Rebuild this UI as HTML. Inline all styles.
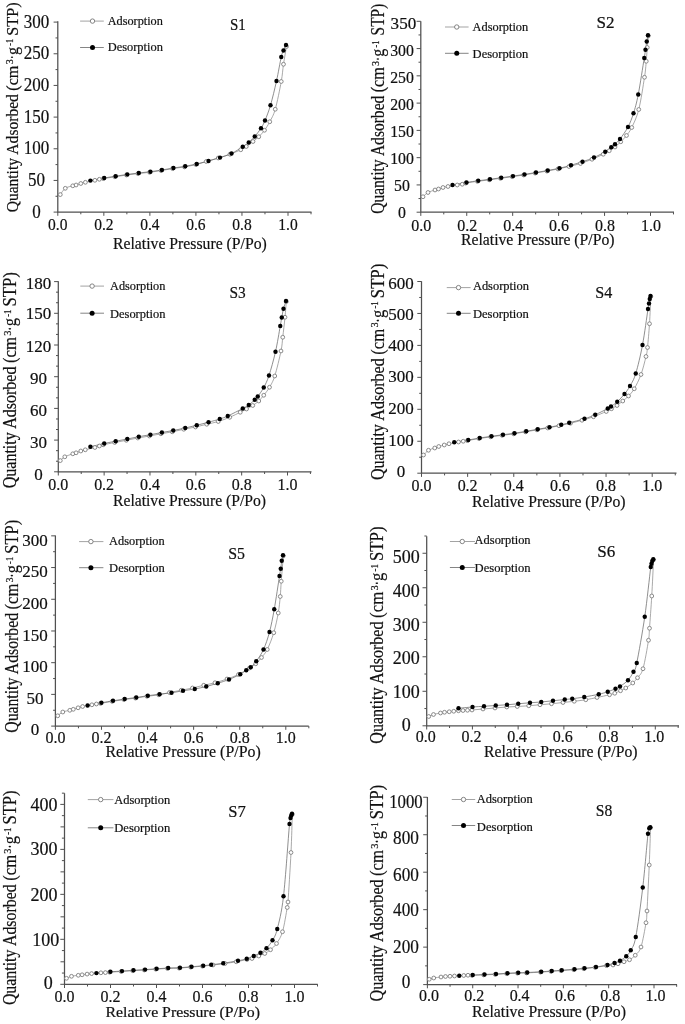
<!DOCTYPE html>
<html><head><meta charset="utf-8"><title>N2 adsorption-desorption isotherms</title>
<style>
html,body{margin:0;padding:0;background:#fff;}
body{width:685px;height:1024px;overflow:hidden;font-family:"Liberation Serif",serif;}
svg{display:block;will-change:transform;filter:blur(0.3px);}
svg text{font-family:"Liberation Serif",serif;fill:#111;stroke:#111;stroke-width:0.2px;}
</style></head><body>
<svg width="685" height="1024" viewBox="0 0 685 1024">
<rect width="685" height="1024" fill="#fff"/>
<g>
<path d="M57.8 21.3 V212.1 H311.5" fill="none" stroke="#505050" stroke-width="1.25"/>
<path d="M57.8 212.1h-4.2M57.8 180.43h-4.2M57.8 148.77h-4.2M57.8 117.1h-4.2M57.8 85.43h-4.2M57.8 53.77h-4.2M57.8 22.1h-4.2M57.8 196.27h-2.3M57.8 164.6h-2.3M57.8 132.93h-2.3M57.8 101.27h-2.3M57.8 69.6h-2.3M57.8 37.93h-2.3M57.8 212.1v3.7M80.82 212.1v2.2M103.84 212.1v3.7M126.86 212.1v2.2M149.88 212.1v3.7M172.9 212.1v2.2M195.92 212.1v3.7M218.94 212.1v2.2M241.96 212.1v3.7M264.98 212.1v2.2M288 212.1v3.7M311.02 212.1v2.2" fill="none" stroke="#505050" stroke-width="1"/>
<text x="36.5" y="217.5" font-size="18.5" text-anchor="middle" textLength="8.5" lengthAdjust="spacingAndGlyphs">0</text>
<text x="36.5" y="185.83" font-size="18.5" text-anchor="middle" textLength="17" lengthAdjust="spacingAndGlyphs">50</text>
<text x="36.5" y="154.17" font-size="18.5" text-anchor="middle" textLength="25.5" lengthAdjust="spacingAndGlyphs">100</text>
<text x="36.5" y="122.5" font-size="18.5" text-anchor="middle" textLength="25.5" lengthAdjust="spacingAndGlyphs">150</text>
<text x="36.5" y="90.83" font-size="18.5" text-anchor="middle" textLength="25.5" lengthAdjust="spacingAndGlyphs">200</text>
<text x="36.5" y="59.17" font-size="18.5" text-anchor="middle" textLength="25.5" lengthAdjust="spacingAndGlyphs">250</text>
<text x="36.5" y="27.5" font-size="18.5" text-anchor="middle" textLength="25.5" lengthAdjust="spacingAndGlyphs">300</text>
<text x="57.8" y="230.2" font-size="16.8" text-anchor="middle" textLength="19.4" lengthAdjust="spacingAndGlyphs">0.0</text>
<text x="103.84" y="230.2" font-size="16.8" text-anchor="middle" textLength="19.4" lengthAdjust="spacingAndGlyphs">0.2</text>
<text x="149.88" y="230.2" font-size="16.8" text-anchor="middle" textLength="19.4" lengthAdjust="spacingAndGlyphs">0.4</text>
<text x="195.92" y="230.2" font-size="16.8" text-anchor="middle" textLength="19.4" lengthAdjust="spacingAndGlyphs">0.6</text>
<text x="241.96" y="230.2" font-size="16.8" text-anchor="middle" textLength="19.4" lengthAdjust="spacingAndGlyphs">0.8</text>
<text x="288" y="230.2" font-size="16.8" text-anchor="middle" textLength="19.4" lengthAdjust="spacingAndGlyphs">1.0</text>
<text x="113" y="248.8" font-size="17" text-anchor="start" textLength="153.8" lengthAdjust="spacingAndGlyphs">Relative Pressure (P/Po)</text>
<g transform="translate(18.4 212.3) rotate(-90) scale(1.0014 1)">
<text x="0" y="0" font-size="17.6" text-anchor="start" textLength="54.2" lengthAdjust="spacingAndGlyphs">Quantity</text>
<text x="57.6" y="0" font-size="17.6" text-anchor="start" textLength="60.4" lengthAdjust="spacingAndGlyphs">Adsorbed</text>
<text x="121.4" y="0" font-size="17.6" text-anchor="start" textLength="25.2" lengthAdjust="spacingAndGlyphs">(cm</text>
<text x="147.8" y="-5.1" font-size="10.5" text-anchor="start" textLength="5" lengthAdjust="spacingAndGlyphs">3</text>
<text x="152.8" y="0" font-size="17.6" text-anchor="start" textLength="4" lengthAdjust="spacingAndGlyphs">·</text>
<text x="157" y="0" font-size="17.6" text-anchor="start" textLength="8" lengthAdjust="spacingAndGlyphs">g</text>
<text x="166.2" y="-5.1" font-size="10.5" text-anchor="start" textLength="7" lengthAdjust="spacingAndGlyphs">-1</text>
<text x="176.3" y="0" font-size="17.6" text-anchor="start" textLength="33.3" lengthAdjust="spacingAndGlyphs">STP)</text>
</g>
<path d="M80.1 21.1H103.8" stroke="#999" stroke-width="0.9" fill="none"/>
<circle cx="92.5" cy="21.1" r="2.2" fill="#fff" stroke="#777" stroke-width="0.9"/>
<text x="107.7" y="24.8" font-size="12.3" text-anchor="start" textLength="55.2" lengthAdjust="spacingAndGlyphs">Adsorption</text>
<path d="M80.1 47.5H103.8" stroke="#777" stroke-width="0.9" fill="none"/>
<circle cx="92.5" cy="47.5" r="2.5" fill="#000"/>
<text x="107.7" y="51.2" font-size="12.3" text-anchor="start" textLength="55.2" lengthAdjust="spacingAndGlyphs">Desorption</text>
<text x="230" y="30" font-size="16" text-anchor="start" textLength="15.75" lengthAdjust="spacingAndGlyphs">S1</text>
<path d="M60.3 194.6 C61.13 193.55 63.22 189.77 65.3 188.3 C67.38 186.83 71 186.35 72.8 185.8 C74.6 185.25 74.77 185.38 76.1 185 C77.43 184.62 79.25 183.95 80.8 183.5 C82.35 183.05 83.05 182.83 85.4 182.3 C87.75 181.77 92.57 180.8 94.9 180.3 C97.23 179.8 97.98 179.58 99.4 179.3 C100.82 179.02 100.82 179.02 103.4 178.6 C105.98 178.18 111.05 177.4 114.9 176.8 C118.75 176.2 122.65 175.53 126.5 175 C130.35 174.47 134.15 174.05 138 173.6 C141.85 173.15 145.75 172.8 149.6 172.3 C153.45 171.8 157.27 171.22 161.1 170.6 C164.93 169.98 168.71 169.22 172.6 168.6 C176.49 167.98 180.56 167.57 184.45 166.9 C188.34 166.23 192.32 165.5 195.95 164.6 C199.58 163.7 202.53 162.6 206.25 161.5 C209.97 160.4 214.29 159.21 218.25 158 C222.21 156.79 226.25 155.62 230 154.25 C233.75 152.88 238.04 151.04 240.75 149.75 C243.46 148.46 244.21 147.88 246.25 146.5 C248.29 145.12 250.92 143.12 253 141.5 C255.08 139.88 256.83 138.62 258.75 136.75 C260.67 134.88 262.67 132.75 264.5 130.25 C266.33 127.75 267.96 125.25 269.75 121.75 C271.54 118.25 273.33 115.96 275.25 109.25 C277.17 102.54 279.88 89 281.25 81.5 C282.62 74 282.62 70.08 283.5 64.25 C284.38 58.42 286 49.46 286.5 46.5" fill="none" stroke="#8c8c8c" stroke-width="0.75"/>
<path d="M90.4 180.6 C92.7 180.17 99.98 178.73 104.2 178 C108.42 177.27 111.85 176.8 115.7 176.2 C119.55 175.6 123.45 174.93 127.3 174.4 C131.15 173.87 134.95 173.45 138.8 173 C142.65 172.55 146.55 172.2 150.4 171.7 C154.25 171.2 158.07 170.62 161.9 170 C165.73 169.38 169.51 168.62 173.4 168 C177.29 167.38 181.36 166.97 185.25 166.3 C189.14 165.63 192.88 164.88 196.75 164 C200.62 163.12 204.62 162.07 208.5 161 C212.38 159.93 216.17 158.85 220 157.6 C223.83 156.35 227.71 155.31 231.5 153.5 C235.29 151.69 239.88 148.58 242.75 146.75 C245.62 144.92 246.75 144.21 248.75 142.5 C250.75 140.79 252.71 138.88 254.75 136.5 C256.79 134.12 259.29 130.92 261 128.25 C262.71 125.58 263.42 124.33 265 120.5 C266.58 116.67 268.58 111.83 270.5 105.25 C272.42 98.67 274.71 89.04 276.5 81 C278.29 72.96 280.08 62.08 281.25 57 C282.42 51.92 282.71 52.5 283.5 50.5 C284.29 48.5 285.58 45.92 286 45" fill="none" stroke="#6a6a6a" stroke-width="0.75"/>
<circle cx="60.3" cy="194.6" r="1.9" fill="#fff" stroke="#777" stroke-width="0.85"/>
<circle cx="65.3" cy="188.3" r="1.9" fill="#fff" stroke="#777" stroke-width="0.85"/>
<circle cx="72.8" cy="185.8" r="1.9" fill="#fff" stroke="#777" stroke-width="0.85"/>
<circle cx="76.1" cy="185" r="1.9" fill="#fff" stroke="#777" stroke-width="0.85"/>
<circle cx="80.8" cy="183.5" r="1.9" fill="#fff" stroke="#777" stroke-width="0.85"/>
<circle cx="85.4" cy="182.3" r="1.9" fill="#fff" stroke="#777" stroke-width="0.85"/>
<circle cx="94.9" cy="180.3" r="1.9" fill="#fff" stroke="#777" stroke-width="0.85"/>
<circle cx="99.4" cy="179.3" r="1.9" fill="#fff" stroke="#777" stroke-width="0.85"/>
<circle cx="103.4" cy="178.6" r="1.9" fill="#fff" stroke="#777" stroke-width="0.85"/>
<circle cx="114.9" cy="176.8" r="1.9" fill="#fff" stroke="#777" stroke-width="0.85"/>
<circle cx="126.5" cy="175" r="1.9" fill="#fff" stroke="#777" stroke-width="0.85"/>
<circle cx="138" cy="173.6" r="1.9" fill="#fff" stroke="#777" stroke-width="0.85"/>
<circle cx="149.6" cy="172.3" r="1.9" fill="#fff" stroke="#777" stroke-width="0.85"/>
<circle cx="161.1" cy="170.6" r="1.9" fill="#fff" stroke="#777" stroke-width="0.85"/>
<circle cx="172.6" cy="168.6" r="1.9" fill="#fff" stroke="#777" stroke-width="0.85"/>
<circle cx="184.45" cy="166.9" r="1.9" fill="#fff" stroke="#777" stroke-width="0.85"/>
<circle cx="195.95" cy="164.6" r="1.9" fill="#fff" stroke="#777" stroke-width="0.85"/>
<circle cx="206.25" cy="161.5" r="1.9" fill="#fff" stroke="#777" stroke-width="0.85"/>
<circle cx="218.25" cy="158" r="1.9" fill="#fff" stroke="#777" stroke-width="0.85"/>
<circle cx="230" cy="154.25" r="1.9" fill="#fff" stroke="#777" stroke-width="0.85"/>
<circle cx="240.75" cy="149.75" r="1.9" fill="#fff" stroke="#777" stroke-width="0.85"/>
<circle cx="246.25" cy="146.5" r="1.9" fill="#fff" stroke="#777" stroke-width="0.85"/>
<circle cx="253" cy="141.5" r="1.9" fill="#fff" stroke="#777" stroke-width="0.85"/>
<circle cx="258.75" cy="136.75" r="1.9" fill="#fff" stroke="#777" stroke-width="0.85"/>
<circle cx="264.5" cy="130.25" r="1.9" fill="#fff" stroke="#777" stroke-width="0.85"/>
<circle cx="269.75" cy="121.75" r="1.9" fill="#fff" stroke="#777" stroke-width="0.85"/>
<circle cx="275.25" cy="109.25" r="1.9" fill="#fff" stroke="#777" stroke-width="0.85"/>
<circle cx="281.25" cy="81.5" r="1.9" fill="#fff" stroke="#777" stroke-width="0.85"/>
<circle cx="283.5" cy="64.25" r="1.9" fill="#fff" stroke="#777" stroke-width="0.85"/>
<circle cx="286.5" cy="46.5" r="1.9" fill="#fff" stroke="#777" stroke-width="0.85"/>
<circle cx="90.4" cy="180.6" r="2.2" fill="#000"/>
<circle cx="104.2" cy="178" r="2.2" fill="#000"/>
<circle cx="115.7" cy="176.2" r="2.2" fill="#000"/>
<circle cx="127.3" cy="174.4" r="2.2" fill="#000"/>
<circle cx="138.8" cy="173" r="2.2" fill="#000"/>
<circle cx="150.4" cy="171.7" r="2.2" fill="#000"/>
<circle cx="161.9" cy="170" r="2.2" fill="#000"/>
<circle cx="173.4" cy="168" r="2.2" fill="#000"/>
<circle cx="185.25" cy="166.3" r="2.2" fill="#000"/>
<circle cx="196.75" cy="164" r="2.2" fill="#000"/>
<circle cx="208.5" cy="161" r="2.2" fill="#000"/>
<circle cx="220" cy="157.6" r="2.2" fill="#000"/>
<circle cx="231.5" cy="153.5" r="2.2" fill="#000"/>
<circle cx="242.75" cy="146.75" r="2.2" fill="#000"/>
<circle cx="248.75" cy="142.5" r="2.2" fill="#000"/>
<circle cx="254.75" cy="136.5" r="2.2" fill="#000"/>
<circle cx="261" cy="128.25" r="2.2" fill="#000"/>
<circle cx="265" cy="120.5" r="2.2" fill="#000"/>
<circle cx="270.5" cy="105.25" r="2.2" fill="#000"/>
<circle cx="276.5" cy="81" r="2.2" fill="#000"/>
<circle cx="281.25" cy="57" r="2.2" fill="#000"/>
<circle cx="283.5" cy="50.5" r="2.2" fill="#000"/>
<circle cx="286" cy="45" r="2.2" fill="#000"/>
</g>
<g>
<path d="M420.8 21.2 V212.2 H674" fill="none" stroke="#505050" stroke-width="1.25"/>
<path d="M420.8 212.2h-4.2M420.8 184.93h-4.2M420.8 157.66h-4.2M420.8 130.39h-4.2M420.8 103.11h-4.2M420.8 75.84h-4.2M420.8 48.57h-4.2M420.8 21.3h-4.2M420.8 198.56h-2.3M420.8 171.29h-2.3M420.8 144.02h-2.3M420.8 116.75h-2.3M420.8 89.48h-2.3M420.8 62.21h-2.3M420.8 34.94h-2.3M420.8 212.2v3.7M443.77 212.2v2.2M466.74 212.2v3.7M489.71 212.2v2.2M512.68 212.2v3.7M535.65 212.2v2.2M558.62 212.2v3.7M581.59 212.2v2.2M604.56 212.2v3.7M627.53 212.2v2.2M650.5 212.2v3.7M673.47 212.2v2.2" fill="none" stroke="#505050" stroke-width="1"/>
<text x="402" y="218.2" font-size="16.2" text-anchor="middle" textLength="7.9" lengthAdjust="spacingAndGlyphs">0</text>
<text x="402" y="191.21" font-size="16.2" text-anchor="middle" textLength="15.8" lengthAdjust="spacingAndGlyphs">50</text>
<text x="402" y="164.23" font-size="16.2" text-anchor="middle" textLength="23.7" lengthAdjust="spacingAndGlyphs">100</text>
<text x="402" y="137.24" font-size="16.2" text-anchor="middle" textLength="23.7" lengthAdjust="spacingAndGlyphs">150</text>
<text x="402" y="110.26" font-size="16.2" text-anchor="middle" textLength="23.7" lengthAdjust="spacingAndGlyphs">200</text>
<text x="402" y="83.27" font-size="16.2" text-anchor="middle" textLength="23.7" lengthAdjust="spacingAndGlyphs">250</text>
<text x="402" y="56.29" font-size="16.2" text-anchor="middle" textLength="23.7" lengthAdjust="spacingAndGlyphs">300</text>
<text x="403.4" y="29.3" font-size="16.2" text-anchor="middle" textLength="25.6" lengthAdjust="spacingAndGlyphs">350</text>
<text x="421.3" y="231" font-size="16.8" text-anchor="middle" textLength="20" lengthAdjust="spacingAndGlyphs">0.0</text>
<text x="467.24" y="231" font-size="16.8" text-anchor="middle" textLength="20" lengthAdjust="spacingAndGlyphs">0.2</text>
<text x="513.18" y="231" font-size="16.8" text-anchor="middle" textLength="20" lengthAdjust="spacingAndGlyphs">0.4</text>
<text x="559.12" y="231" font-size="16.8" text-anchor="middle" textLength="20" lengthAdjust="spacingAndGlyphs">0.6</text>
<text x="605.06" y="231" font-size="16.8" text-anchor="middle" textLength="20" lengthAdjust="spacingAndGlyphs">0.8</text>
<text x="651" y="231" font-size="16.8" text-anchor="middle" textLength="20" lengthAdjust="spacingAndGlyphs">1.0</text>
<text x="461" y="244.8" font-size="17" text-anchor="start" textLength="153.5" lengthAdjust="spacingAndGlyphs">Relative Pressure (P/Po)</text>
<g transform="translate(384.4 213.7) rotate(-90) scale(1.0000 1)">
<text x="0" y="0" font-size="18.1" text-anchor="start" textLength="54.2" lengthAdjust="spacingAndGlyphs">Quantity</text>
<text x="57.6" y="0" font-size="18.1" text-anchor="start" textLength="60.4" lengthAdjust="spacingAndGlyphs">Adsorbed</text>
<text x="121.4" y="0" font-size="18.1" text-anchor="start" textLength="25.2" lengthAdjust="spacingAndGlyphs">(cm</text>
<text x="147.8" y="-5.1" font-size="10.5" text-anchor="start" textLength="5" lengthAdjust="spacingAndGlyphs">3</text>
<text x="152.8" y="0" font-size="18.1" text-anchor="start" textLength="4" lengthAdjust="spacingAndGlyphs">·</text>
<text x="157" y="0" font-size="18.1" text-anchor="start" textLength="8" lengthAdjust="spacingAndGlyphs">g</text>
<text x="166.2" y="-5.1" font-size="10.5" text-anchor="start" textLength="7" lengthAdjust="spacingAndGlyphs">-1</text>
<text x="178.3" y="0" font-size="18.1" text-anchor="start" textLength="31.6" lengthAdjust="spacingAndGlyphs">STP)</text>
</g>
<path d="M445 27H468.6" stroke="#999" stroke-width="0.9" fill="none"/>
<circle cx="456.75" cy="27" r="2.2" fill="#fff" stroke="#777" stroke-width="0.9"/>
<text x="472.6" y="30.7" font-size="12.3" text-anchor="start" textLength="55.6" lengthAdjust="spacingAndGlyphs">Adsorption</text>
<path d="M445 53.3H468.6" stroke="#777" stroke-width="0.9" fill="none"/>
<circle cx="456.75" cy="53.3" r="2.5" fill="#000"/>
<text x="472.6" y="57.9" font-size="12.3" text-anchor="start" textLength="55.6" lengthAdjust="spacingAndGlyphs">Desorption</text>
<text x="596.5" y="27.5" font-size="16" text-anchor="start" textLength="18" lengthAdjust="spacingAndGlyphs">S2</text>
<path d="M423 196.75 C423.83 196.04 426 193.62 428 192.5 C430 191.38 433.25 190.58 435 190 C436.75 189.42 437.17 189.42 438.5 189 C439.83 188.58 441.42 187.92 443 187.5 C444.58 187.08 445.62 186.92 448 186.5 C450.38 186.08 454.88 185.38 457.25 185 C459.62 184.62 460.84 184.57 462.25 184.25 C463.66 183.93 463.17 183.58 465.7 183.1 C468.23 182.62 473.53 181.89 477.45 181.35 C481.37 180.81 485.37 180.35 489.2 179.85 C493.03 179.35 496.62 178.88 500.45 178.35 C504.28 177.82 508.33 177.26 512.2 176.7 C516.08 176.14 519.87 175.6 523.7 175 C527.53 174.4 531.33 173.75 535.2 173.1 C539.08 172.45 543.15 171.78 546.95 171.1 C550.75 170.42 554.33 169.77 558 169 C561.67 168.23 565.25 167.42 569 166.5 C572.75 165.58 576.67 164.71 580.5 163.5 C584.33 162.29 588.21 160.79 592 159.25 C595.79 157.71 600.38 155.67 603.25 154.25 C606.12 152.83 607.29 151.96 609.25 150.75 C611.21 149.54 613.08 148.5 615 147 C616.92 145.5 618.83 143.67 620.75 141.75 C622.67 139.83 624.67 137.88 626.5 135.5 C628.33 133.12 629.71 131.83 631.75 127.5 C633.79 123.17 636.62 117.88 638.75 109.5 C640.88 101.12 643.25 85.29 644.5 77.25 C645.75 69.21 645.79 66.21 646.25 61.25 C646.71 56.29 646.91 51.73 647.25 47.5 C647.59 43.27 648.12 37.79 648.3 35.85" fill="none" stroke="#8c8c8c" stroke-width="0.75"/>
<path d="M452.5 185 C454.83 184.58 462.21 183.21 466.5 182.5 C470.79 181.79 474.33 181.29 478.25 180.75 C482.17 180.21 486.17 179.75 490 179.25 C493.83 178.75 497.42 178.28 501.25 177.75 C505.08 177.22 509.12 176.66 513 176.1 C516.88 175.54 520.67 175 524.5 174.4 C528.33 173.8 532.12 173.15 536 172.5 C539.88 171.85 543.83 171.21 547.75 170.5 C551.67 169.79 555.62 169.12 559.5 168.25 C563.38 167.38 567.17 166.33 571 165.25 C574.83 164.17 578.67 163.04 582.5 161.75 C586.33 160.46 590.21 159.17 594 157.5 C597.79 155.83 602.38 153.46 605.25 151.75 C608.12 150.04 609.62 148.5 611.25 147.25 C612.88 146 613.54 145.62 615 144.25 C616.46 142.88 617.83 141.88 620 139 C622.17 136.12 625.75 131.29 628 127 C630.25 122.71 631.79 118.67 633.5 113.25 C635.21 107.83 636.46 103.71 638.25 94.5 C640.04 85.29 643.04 65.46 644.25 58 C645.46 50.54 645.08 52.5 645.5 49.75 C645.92 47 646.33 43.92 646.75 41.5 C647.17 39.08 647.79 36.29 648 35.25" fill="none" stroke="#6a6a6a" stroke-width="0.75"/>
<circle cx="423" cy="196.75" r="1.9" fill="#fff" stroke="#777" stroke-width="0.85"/>
<circle cx="428" cy="192.5" r="1.9" fill="#fff" stroke="#777" stroke-width="0.85"/>
<circle cx="435" cy="190" r="1.9" fill="#fff" stroke="#777" stroke-width="0.85"/>
<circle cx="438.5" cy="189" r="1.9" fill="#fff" stroke="#777" stroke-width="0.85"/>
<circle cx="443" cy="187.5" r="1.9" fill="#fff" stroke="#777" stroke-width="0.85"/>
<circle cx="448" cy="186.5" r="1.9" fill="#fff" stroke="#777" stroke-width="0.85"/>
<circle cx="457.25" cy="185" r="1.9" fill="#fff" stroke="#777" stroke-width="0.85"/>
<circle cx="462.25" cy="184.25" r="1.9" fill="#fff" stroke="#777" stroke-width="0.85"/>
<circle cx="465.7" cy="183.1" r="1.9" fill="#fff" stroke="#777" stroke-width="0.85"/>
<circle cx="477.45" cy="181.35" r="1.9" fill="#fff" stroke="#777" stroke-width="0.85"/>
<circle cx="489.2" cy="179.85" r="1.9" fill="#fff" stroke="#777" stroke-width="0.85"/>
<circle cx="500.45" cy="178.35" r="1.9" fill="#fff" stroke="#777" stroke-width="0.85"/>
<circle cx="512.2" cy="176.7" r="1.9" fill="#fff" stroke="#777" stroke-width="0.85"/>
<circle cx="523.7" cy="175" r="1.9" fill="#fff" stroke="#777" stroke-width="0.85"/>
<circle cx="535.2" cy="173.1" r="1.9" fill="#fff" stroke="#777" stroke-width="0.85"/>
<circle cx="546.95" cy="171.1" r="1.9" fill="#fff" stroke="#777" stroke-width="0.85"/>
<circle cx="558" cy="169" r="1.9" fill="#fff" stroke="#777" stroke-width="0.85"/>
<circle cx="569" cy="166.5" r="1.9" fill="#fff" stroke="#777" stroke-width="0.85"/>
<circle cx="580.5" cy="163.5" r="1.9" fill="#fff" stroke="#777" stroke-width="0.85"/>
<circle cx="592" cy="159.25" r="1.9" fill="#fff" stroke="#777" stroke-width="0.85"/>
<circle cx="603.25" cy="154.25" r="1.9" fill="#fff" stroke="#777" stroke-width="0.85"/>
<circle cx="609.25" cy="150.75" r="1.9" fill="#fff" stroke="#777" stroke-width="0.85"/>
<circle cx="615" cy="147" r="1.9" fill="#fff" stroke="#777" stroke-width="0.85"/>
<circle cx="620.75" cy="141.75" r="1.9" fill="#fff" stroke="#777" stroke-width="0.85"/>
<circle cx="626.5" cy="135.5" r="1.9" fill="#fff" stroke="#777" stroke-width="0.85"/>
<circle cx="631.75" cy="127.5" r="1.9" fill="#fff" stroke="#777" stroke-width="0.85"/>
<circle cx="638.75" cy="109.5" r="1.9" fill="#fff" stroke="#777" stroke-width="0.85"/>
<circle cx="644.5" cy="77.25" r="1.9" fill="#fff" stroke="#777" stroke-width="0.85"/>
<circle cx="646.25" cy="61.25" r="1.9" fill="#fff" stroke="#777" stroke-width="0.85"/>
<circle cx="647.25" cy="47.5" r="1.9" fill="#fff" stroke="#777" stroke-width="0.85"/>
<circle cx="648.3" cy="35.85" r="1.9" fill="#fff" stroke="#777" stroke-width="0.85"/>
<circle cx="452.5" cy="185" r="2.2" fill="#000"/>
<circle cx="466.5" cy="182.5" r="2.2" fill="#000"/>
<circle cx="478.25" cy="180.75" r="2.2" fill="#000"/>
<circle cx="490" cy="179.25" r="2.2" fill="#000"/>
<circle cx="501.25" cy="177.75" r="2.2" fill="#000"/>
<circle cx="513" cy="176.1" r="2.2" fill="#000"/>
<circle cx="524.5" cy="174.4" r="2.2" fill="#000"/>
<circle cx="536" cy="172.5" r="2.2" fill="#000"/>
<circle cx="547.75" cy="170.5" r="2.2" fill="#000"/>
<circle cx="559.5" cy="168.25" r="2.2" fill="#000"/>
<circle cx="571" cy="165.25" r="2.2" fill="#000"/>
<circle cx="582.5" cy="161.75" r="2.2" fill="#000"/>
<circle cx="594" cy="157.5" r="2.2" fill="#000"/>
<circle cx="605.25" cy="151.75" r="2.2" fill="#000"/>
<circle cx="611.25" cy="147.25" r="2.2" fill="#000"/>
<circle cx="615" cy="144.25" r="2.2" fill="#000"/>
<circle cx="620" cy="139" r="2.2" fill="#000"/>
<circle cx="628" cy="127" r="2.2" fill="#000"/>
<circle cx="633.5" cy="113.25" r="2.2" fill="#000"/>
<circle cx="638.25" cy="94.5" r="2.2" fill="#000"/>
<circle cx="644.25" cy="58" r="2.2" fill="#000"/>
<circle cx="645.5" cy="49.75" r="2.2" fill="#000"/>
<circle cx="646.75" cy="41.5" r="2.2" fill="#000"/>
<circle cx="648" cy="35.25" r="2.2" fill="#000"/>
</g>
<g>
<path d="M58.3 281.3 V471.8 H311.5" fill="none" stroke="#505050" stroke-width="1.25"/>
<path d="M58.3 471.8h-4.2M58.3 440.1h-4.2M58.3 408.4h-4.2M58.3 376.7h-4.2M58.3 345h-4.2M58.3 313.3h-4.2M58.3 281.6h-4.2M58.3 461.23h-2.3M58.3 450.67h-2.3M58.3 429.53h-2.3M58.3 418.97h-2.3M58.3 397.83h-2.3M58.3 387.27h-2.3M58.3 366.13h-2.3M58.3 355.57h-2.3M58.3 334.43h-2.3M58.3 323.87h-2.3M58.3 302.73h-2.3M58.3 292.17h-2.3M58.3 471.8v3.7M81.22 471.8v2.2M104.14 471.8v3.7M127.06 471.8v2.2M149.98 471.8v3.7M172.9 471.8v2.2M195.82 471.8v3.7M218.74 471.8v2.2M241.66 471.8v3.7M264.58 471.8v2.2M287.5 471.8v3.7M310.42 471.8v2.2" fill="none" stroke="#505050" stroke-width="1"/>
<text x="38.4" y="479.55" font-size="16.8" text-anchor="middle" textLength="8.5" lengthAdjust="spacingAndGlyphs">0</text>
<text x="38.4" y="448.45" font-size="16.8" text-anchor="middle" textLength="17" lengthAdjust="spacingAndGlyphs">30</text>
<text x="38.4" y="415.95" font-size="16.8" text-anchor="middle" textLength="17" lengthAdjust="spacingAndGlyphs">60</text>
<text x="38.4" y="383.55" font-size="16.8" text-anchor="middle" textLength="17" lengthAdjust="spacingAndGlyphs">90</text>
<text x="38.4" y="351.85" font-size="16.8" text-anchor="middle" textLength="25.5" lengthAdjust="spacingAndGlyphs">120</text>
<text x="38.4" y="318.75" font-size="16.8" text-anchor="middle" textLength="25.5" lengthAdjust="spacingAndGlyphs">150</text>
<text x="38.4" y="289.05" font-size="16.8" text-anchor="middle" textLength="25.5" lengthAdjust="spacingAndGlyphs">180</text>
<text x="58.3" y="489.5" font-size="16.8" text-anchor="middle" textLength="20" lengthAdjust="spacingAndGlyphs">0.0</text>
<text x="104.14" y="489.5" font-size="16.8" text-anchor="middle" textLength="20" lengthAdjust="spacingAndGlyphs">0.2</text>
<text x="149.98" y="489.5" font-size="16.8" text-anchor="middle" textLength="20" lengthAdjust="spacingAndGlyphs">0.4</text>
<text x="195.82" y="489.5" font-size="16.8" text-anchor="middle" textLength="20" lengthAdjust="spacingAndGlyphs">0.6</text>
<text x="241.66" y="489.5" font-size="16.8" text-anchor="middle" textLength="20" lengthAdjust="spacingAndGlyphs">0.8</text>
<text x="287.5" y="489.5" font-size="16.8" text-anchor="middle" textLength="20" lengthAdjust="spacingAndGlyphs">1.0</text>
<text x="113" y="506" font-size="17" text-anchor="start" textLength="153" lengthAdjust="spacingAndGlyphs">Relative Pressure (P/Po)</text>
<g transform="translate(16 488.2) rotate(-90) scale(1.0310 1)">
<text x="0" y="0" font-size="18.6" text-anchor="start" textLength="54.2" lengthAdjust="spacingAndGlyphs">Quantity</text>
<text x="57.6" y="0" font-size="18.6" text-anchor="start" textLength="60.4" lengthAdjust="spacingAndGlyphs">Adsorbed</text>
<text x="121.4" y="0" font-size="18.6" text-anchor="start" textLength="25.2" lengthAdjust="spacingAndGlyphs">(cm</text>
<text x="147.8" y="-5.1" font-size="10.5" text-anchor="start" textLength="5" lengthAdjust="spacingAndGlyphs">3</text>
<text x="152.8" y="0" font-size="18.6" text-anchor="start" textLength="4" lengthAdjust="spacingAndGlyphs">·</text>
<text x="157" y="0" font-size="18.6" text-anchor="start" textLength="8" lengthAdjust="spacingAndGlyphs">g</text>
<text x="166.2" y="-5.1" font-size="10.5" text-anchor="start" textLength="7" lengthAdjust="spacingAndGlyphs">-1</text>
<text x="176.3" y="0" font-size="18.6" text-anchor="start" textLength="33.3" lengthAdjust="spacingAndGlyphs">STP)</text>
</g>
<path d="M80.3 286.1H104" stroke="#999" stroke-width="0.9" fill="none"/>
<circle cx="92.1" cy="286.1" r="2.2" fill="#fff" stroke="#777" stroke-width="0.9"/>
<text x="110" y="290.2" font-size="12.3" text-anchor="start" textLength="55.4" lengthAdjust="spacingAndGlyphs">Adsorption</text>
<path d="M80.3 313.2H104" stroke="#777" stroke-width="0.9" fill="none"/>
<circle cx="92.1" cy="313.2" r="2.5" fill="#000"/>
<text x="110" y="317.5" font-size="12.3" text-anchor="start" textLength="55.4" lengthAdjust="spacingAndGlyphs">Desorption</text>
<text x="229.5" y="298" font-size="16" text-anchor="start" textLength="16.25" lengthAdjust="spacingAndGlyphs">S3</text>
<path d="M60.3 460.6 C61.05 459.97 62.72 457.93 64.8 456.8 C66.88 455.67 70.92 454.47 72.8 453.8 C74.68 453.13 74.77 453.27 76.1 452.8 C77.43 452.33 79.27 451.5 80.8 451 C82.33 450.5 82.95 450.38 85.3 449.8 C87.65 449.22 92.55 448.13 94.9 447.5 C97.25 446.87 98.02 446.45 99.4 446 C100.78 445.55 100.65 445.38 103.2 444.8 C105.75 444.22 110.85 443.25 114.7 442.5 C118.55 441.75 122.45 441.05 126.3 440.3 C130.15 439.55 133.95 438.72 137.8 438 C141.65 437.28 145.55 436.7 149.4 436 C153.25 435.3 157.09 434.5 160.9 433.8 C164.71 433.1 168.44 432.56 172.25 431.8 C176.06 431.04 179.88 430.05 183.75 429.25 C187.62 428.45 191.67 427.83 195.5 427 C199.33 426.17 202.96 425.17 206.75 424.25 C210.54 423.33 214.42 422.67 218.25 421.5 C222.08 420.33 226.08 418.79 229.75 417.25 C233.42 415.71 237.46 413.62 240.25 412.25 C243.04 410.88 244.42 410.12 246.5 409 C248.58 407.88 250.71 406.83 252.75 405.5 C254.79 404.17 256.92 402.71 258.75 401 C260.58 399.29 261.96 397.54 263.75 395.25 C265.54 392.96 267.67 390.46 269.5 387.25 C271.33 384.04 272.83 382.04 274.75 376 C276.67 369.96 279.67 357.46 281 351 C282.33 344.54 282.08 342.88 282.75 337.25 C283.42 331.62 284.41 323.19 285 317.25 C285.59 311.31 286.08 304.21 286.3 301.6" fill="none" stroke="#8c8c8c" stroke-width="0.75"/>
<path d="M90.4 446.8 C92.7 446.25 99.98 444.43 104.2 443.5 C108.42 442.57 111.85 441.95 115.7 441.2 C119.55 440.45 123.45 439.75 127.3 439 C131.15 438.25 134.95 437.42 138.8 436.7 C142.65 435.98 146.55 435.4 150.4 434.7 C154.25 434 158.09 433.2 161.9 432.5 C165.71 431.8 169.36 431.25 173.25 430.5 C177.14 429.75 181.33 428.88 185.25 428 C189.17 427.12 192.88 426.21 196.75 425.25 C200.62 424.29 204.67 423.29 208.5 422.25 C212.33 421.21 216.54 420.04 219.75 419 C222.96 417.96 223.92 417.75 227.75 416 C231.58 414.25 239.25 410.33 242.75 408.5 C246.25 406.67 246.75 406.46 248.75 405 C250.75 403.54 253.25 401.17 254.75 399.75 C256.25 398.33 256.25 398.54 257.75 396.5 C259.25 394.46 261.88 391 263.75 387.5 C265.62 384 267.04 381.46 269 375.5 C270.96 369.54 273.62 360 275.5 351.75 C277.38 343.5 279.21 331.71 280.25 326 C281.29 320.29 281.21 320.38 281.75 317.5 C282.29 314.62 282.79 311.5 283.5 308.75 C284.21 306 285.58 302.29 286 301" fill="none" stroke="#6a6a6a" stroke-width="0.75"/>
<circle cx="60.3" cy="460.6" r="1.9" fill="#fff" stroke="#777" stroke-width="0.85"/>
<circle cx="64.8" cy="456.8" r="1.9" fill="#fff" stroke="#777" stroke-width="0.85"/>
<circle cx="72.8" cy="453.8" r="1.9" fill="#fff" stroke="#777" stroke-width="0.85"/>
<circle cx="76.1" cy="452.8" r="1.9" fill="#fff" stroke="#777" stroke-width="0.85"/>
<circle cx="80.8" cy="451" r="1.9" fill="#fff" stroke="#777" stroke-width="0.85"/>
<circle cx="85.3" cy="449.8" r="1.9" fill="#fff" stroke="#777" stroke-width="0.85"/>
<circle cx="94.9" cy="447.5" r="1.9" fill="#fff" stroke="#777" stroke-width="0.85"/>
<circle cx="99.4" cy="446" r="1.9" fill="#fff" stroke="#777" stroke-width="0.85"/>
<circle cx="103.2" cy="444.8" r="1.9" fill="#fff" stroke="#777" stroke-width="0.85"/>
<circle cx="114.7" cy="442.5" r="1.9" fill="#fff" stroke="#777" stroke-width="0.85"/>
<circle cx="126.3" cy="440.3" r="1.9" fill="#fff" stroke="#777" stroke-width="0.85"/>
<circle cx="137.8" cy="438" r="1.9" fill="#fff" stroke="#777" stroke-width="0.85"/>
<circle cx="149.4" cy="436" r="1.9" fill="#fff" stroke="#777" stroke-width="0.85"/>
<circle cx="160.9" cy="433.8" r="1.9" fill="#fff" stroke="#777" stroke-width="0.85"/>
<circle cx="172.25" cy="431.8" r="1.9" fill="#fff" stroke="#777" stroke-width="0.85"/>
<circle cx="183.75" cy="429.25" r="1.9" fill="#fff" stroke="#777" stroke-width="0.85"/>
<circle cx="195.5" cy="427" r="1.9" fill="#fff" stroke="#777" stroke-width="0.85"/>
<circle cx="206.75" cy="424.25" r="1.9" fill="#fff" stroke="#777" stroke-width="0.85"/>
<circle cx="218.25" cy="421.5" r="1.9" fill="#fff" stroke="#777" stroke-width="0.85"/>
<circle cx="229.75" cy="417.25" r="1.9" fill="#fff" stroke="#777" stroke-width="0.85"/>
<circle cx="240.25" cy="412.25" r="1.9" fill="#fff" stroke="#777" stroke-width="0.85"/>
<circle cx="246.5" cy="409" r="1.9" fill="#fff" stroke="#777" stroke-width="0.85"/>
<circle cx="252.75" cy="405.5" r="1.9" fill="#fff" stroke="#777" stroke-width="0.85"/>
<circle cx="258.75" cy="401" r="1.9" fill="#fff" stroke="#777" stroke-width="0.85"/>
<circle cx="263.75" cy="395.25" r="1.9" fill="#fff" stroke="#777" stroke-width="0.85"/>
<circle cx="269.5" cy="387.25" r="1.9" fill="#fff" stroke="#777" stroke-width="0.85"/>
<circle cx="274.75" cy="376" r="1.9" fill="#fff" stroke="#777" stroke-width="0.85"/>
<circle cx="281" cy="351" r="1.9" fill="#fff" stroke="#777" stroke-width="0.85"/>
<circle cx="282.75" cy="337.25" r="1.9" fill="#fff" stroke="#777" stroke-width="0.85"/>
<circle cx="285" cy="317.25" r="1.9" fill="#fff" stroke="#777" stroke-width="0.85"/>
<circle cx="286.3" cy="301.6" r="1.9" fill="#fff" stroke="#777" stroke-width="0.85"/>
<circle cx="90.4" cy="446.8" r="2.2" fill="#000"/>
<circle cx="104.2" cy="443.5" r="2.2" fill="#000"/>
<circle cx="115.7" cy="441.2" r="2.2" fill="#000"/>
<circle cx="127.3" cy="439" r="2.2" fill="#000"/>
<circle cx="138.8" cy="436.7" r="2.2" fill="#000"/>
<circle cx="150.4" cy="434.7" r="2.2" fill="#000"/>
<circle cx="161.9" cy="432.5" r="2.2" fill="#000"/>
<circle cx="173.25" cy="430.5" r="2.2" fill="#000"/>
<circle cx="185.25" cy="428" r="2.2" fill="#000"/>
<circle cx="196.75" cy="425.25" r="2.2" fill="#000"/>
<circle cx="208.5" cy="422.25" r="2.2" fill="#000"/>
<circle cx="219.75" cy="419" r="2.2" fill="#000"/>
<circle cx="227.75" cy="416" r="2.2" fill="#000"/>
<circle cx="242.75" cy="408.5" r="2.2" fill="#000"/>
<circle cx="248.75" cy="405" r="2.2" fill="#000"/>
<circle cx="254.75" cy="399.75" r="2.2" fill="#000"/>
<circle cx="257.75" cy="396.5" r="2.2" fill="#000"/>
<circle cx="263.75" cy="387.5" r="2.2" fill="#000"/>
<circle cx="269" cy="375.5" r="2.2" fill="#000"/>
<circle cx="275.5" cy="351.75" r="2.2" fill="#000"/>
<circle cx="280.25" cy="326" r="2.2" fill="#000"/>
<circle cx="281.75" cy="317.5" r="2.2" fill="#000"/>
<circle cx="283.5" cy="308.75" r="2.2" fill="#000"/>
<circle cx="286" cy="301" r="2.2" fill="#000"/>
</g>
<g>
<path d="M421.5 281.3 V473.2 H676.5" fill="none" stroke="#505050" stroke-width="1.25"/>
<path d="M421.5 473.2h-4.2M421.5 441.25h-4.2M421.5 409.3h-4.2M421.5 377.35h-4.2M421.5 345.4h-4.2M421.5 313.45h-4.2M421.5 281.5h-4.2M421.5 457.22h-2.3M421.5 425.27h-2.3M421.5 393.32h-2.3M421.5 361.38h-2.3M421.5 329.42h-2.3M421.5 297.48h-2.3M421.5 473.2v3.7M444.57 473.2v2.2M467.64 473.2v3.7M490.71 473.2v2.2M513.78 473.2v3.7M536.85 473.2v2.2M559.92 473.2v3.7M582.99 473.2v2.2M606.06 473.2v3.7M629.13 473.2v2.2M652.2 473.2v3.7M675.27 473.2v2.2" fill="none" stroke="#505050" stroke-width="1"/>
<text x="401" y="476.5" font-size="17.4" text-anchor="middle" textLength="8.5" lengthAdjust="spacingAndGlyphs">0</text>
<text x="401" y="445.65" font-size="17.4" text-anchor="middle" textLength="25.5" lengthAdjust="spacingAndGlyphs">100</text>
<text x="401" y="413.7" font-size="17.4" text-anchor="middle" textLength="25.5" lengthAdjust="spacingAndGlyphs">200</text>
<text x="401" y="382.35" font-size="17.4" text-anchor="middle" textLength="25.5" lengthAdjust="spacingAndGlyphs">300</text>
<text x="401" y="351.3" font-size="17.4" text-anchor="middle" textLength="25.5" lengthAdjust="spacingAndGlyphs">400</text>
<text x="401" y="319.95" font-size="17.4" text-anchor="middle" textLength="25.5" lengthAdjust="spacingAndGlyphs">500</text>
<text x="401" y="288.5" font-size="17.4" text-anchor="middle" textLength="25.5" lengthAdjust="spacingAndGlyphs">600</text>
<text x="421.5" y="490.5" font-size="16.8" text-anchor="middle" textLength="20" lengthAdjust="spacingAndGlyphs">0.0</text>
<text x="467.64" y="490.5" font-size="16.8" text-anchor="middle" textLength="20" lengthAdjust="spacingAndGlyphs">0.2</text>
<text x="513.78" y="490.5" font-size="16.8" text-anchor="middle" textLength="20" lengthAdjust="spacingAndGlyphs">0.4</text>
<text x="559.92" y="490.5" font-size="16.8" text-anchor="middle" textLength="20" lengthAdjust="spacingAndGlyphs">0.6</text>
<text x="606.06" y="490.5" font-size="16.8" text-anchor="middle" textLength="20" lengthAdjust="spacingAndGlyphs">0.8</text>
<text x="652.2" y="490.5" font-size="16.8" text-anchor="middle" textLength="20" lengthAdjust="spacingAndGlyphs">1.0</text>
<text x="472" y="506.5" font-size="17" text-anchor="start" textLength="153.5" lengthAdjust="spacingAndGlyphs">Relative Pressure (P/Po)</text>
<g transform="translate(383.5 480.1) rotate(-90) scale(1.0320 1)">
<text x="0" y="0" font-size="18.1" text-anchor="start" textLength="54.2" lengthAdjust="spacingAndGlyphs">Quantity</text>
<text x="57.6" y="0" font-size="18.1" text-anchor="start" textLength="60.4" lengthAdjust="spacingAndGlyphs">Adsorbed</text>
<text x="121.4" y="0" font-size="18.1" text-anchor="start" textLength="25.2" lengthAdjust="spacingAndGlyphs">(cm</text>
<text x="147.8" y="-5.1" font-size="10.5" text-anchor="start" textLength="5" lengthAdjust="spacingAndGlyphs">3</text>
<text x="152.8" y="0" font-size="18.1" text-anchor="start" textLength="4" lengthAdjust="spacingAndGlyphs">·</text>
<text x="157" y="0" font-size="18.1" text-anchor="start" textLength="8" lengthAdjust="spacingAndGlyphs">g</text>
<text x="166.2" y="-5.1" font-size="10.5" text-anchor="start" textLength="7" lengthAdjust="spacingAndGlyphs">-1</text>
<text x="176.3" y="0" font-size="18.1" text-anchor="start" textLength="33.3" lengthAdjust="spacingAndGlyphs">STP)</text>
</g>
<path d="M446.75 287.6H470.6" stroke="#999" stroke-width="0.9" fill="none"/>
<circle cx="458.5" cy="287.6" r="2.2" fill="#fff" stroke="#777" stroke-width="0.9"/>
<text x="472.9" y="290.4" font-size="12.3" text-anchor="start" textLength="56" lengthAdjust="spacingAndGlyphs">Adsorption</text>
<path d="M446.75 313.3H470.6" stroke="#777" stroke-width="0.9" fill="none"/>
<circle cx="458.5" cy="313.3" r="2.5" fill="#000"/>
<text x="472.9" y="318.3" font-size="12.3" text-anchor="start" textLength="56" lengthAdjust="spacingAndGlyphs">Desorption</text>
<text x="595.25" y="297.75" font-size="16" text-anchor="start" textLength="17" lengthAdjust="spacingAndGlyphs">S4</text>
<path d="M423.5 455 C424.33 454.21 426.62 451.42 428.5 450.25 C430.38 449.08 433.04 448.62 434.75 448 C436.46 447.38 437.17 447 438.75 446.5 C440.33 446 442.54 445.46 444.25 445 C445.96 444.54 446.62 444.25 449 443.75 C451.38 443.25 456.12 442.42 458.5 442 C460.88 441.58 461.76 441.48 463.25 441.25 C464.74 441.02 464.83 441.04 467.45 440.6 C470.07 440.16 475.07 439.23 478.95 438.6 C482.82 437.98 486.82 437.39 490.7 436.85 C494.57 436.31 498.37 435.85 502.2 435.35 C506.03 434.85 509.83 434.43 513.7 433.85 C517.58 433.27 521.58 432.52 525.45 431.85 C529.33 431.18 533.23 430.49 536.95 429.85 C540.67 429.21 544.08 428.68 547.75 428 C551.42 427.32 555.21 426.54 559 425.75 C562.79 424.96 566.67 424.17 570.5 423.25 C574.33 422.33 578.17 421.33 582 420.25 C585.83 419.17 589.46 418.21 593.5 416.75 C597.54 415.29 603.25 412.83 606.25 411.5 C609.25 410.17 609.71 409.75 611.5 408.75 C613.29 407.75 615.12 406.79 617 405.5 C618.88 404.21 620.83 402.58 622.75 401 C624.67 399.42 626.58 398.04 628.5 396 C630.42 393.96 632.17 392.33 634.25 388.75 C636.33 385.17 639.04 379.88 641 374.5 C642.96 369.12 644.92 361 646 356.5 C647.08 352 646.92 352.96 647.5 347.5 C648.08 342.04 648.95 332.23 649.5 323.75 C650.05 315.27 650.58 301.12 650.8 296.6" fill="none" stroke="#8c8c8c" stroke-width="0.75"/>
<path d="M454.25 442.25 C456.58 441.88 464 440.71 468.25 440 C472.5 439.29 475.88 438.62 479.75 438 C483.62 437.38 487.62 436.79 491.5 436.25 C495.38 435.71 499.17 435.25 503 434.75 C506.83 434.25 510.62 433.83 514.5 433.25 C518.38 432.67 522.38 431.92 526.25 431.25 C530.12 430.58 533.88 429.92 537.75 429.25 C541.62 428.58 545.58 428 549.5 427.25 C553.42 426.5 557.96 425.5 561.25 424.75 C564.54 424 565.38 423.75 569.25 422.75 C573.12 421.75 580.17 420.08 584.5 418.75 C588.83 417.42 591.38 416.46 595.25 414.75 C599.12 413.04 605.12 409.88 607.75 408.5 C610.38 407.12 609.42 407.62 611 406.5 C612.58 405.38 615 403.83 617.25 401.75 C619.5 399.67 622.38 396.62 624.5 394 C626.62 391.38 628.12 389.42 630 386 C631.88 382.58 633.67 380.33 635.75 373.5 C637.83 366.67 640.46 355.75 642.5 345 C644.54 334.25 646.92 315.92 648 309 C649.08 302.08 648.71 305.17 649 303.5 C649.29 301.83 649.5 300.25 649.75 299 C650 297.75 650.38 296.5 650.5 296" fill="none" stroke="#6a6a6a" stroke-width="0.75"/>
<circle cx="423.5" cy="455" r="1.9" fill="#fff" stroke="#777" stroke-width="0.85"/>
<circle cx="428.5" cy="450.25" r="1.9" fill="#fff" stroke="#777" stroke-width="0.85"/>
<circle cx="434.75" cy="448" r="1.9" fill="#fff" stroke="#777" stroke-width="0.85"/>
<circle cx="438.75" cy="446.5" r="1.9" fill="#fff" stroke="#777" stroke-width="0.85"/>
<circle cx="444.25" cy="445" r="1.9" fill="#fff" stroke="#777" stroke-width="0.85"/>
<circle cx="449" cy="443.75" r="1.9" fill="#fff" stroke="#777" stroke-width="0.85"/>
<circle cx="458.5" cy="442" r="1.9" fill="#fff" stroke="#777" stroke-width="0.85"/>
<circle cx="463.25" cy="441.25" r="1.9" fill="#fff" stroke="#777" stroke-width="0.85"/>
<circle cx="467.45" cy="440.6" r="1.9" fill="#fff" stroke="#777" stroke-width="0.85"/>
<circle cx="478.95" cy="438.6" r="1.9" fill="#fff" stroke="#777" stroke-width="0.85"/>
<circle cx="490.7" cy="436.85" r="1.9" fill="#fff" stroke="#777" stroke-width="0.85"/>
<circle cx="502.2" cy="435.35" r="1.9" fill="#fff" stroke="#777" stroke-width="0.85"/>
<circle cx="513.7" cy="433.85" r="1.9" fill="#fff" stroke="#777" stroke-width="0.85"/>
<circle cx="525.45" cy="431.85" r="1.9" fill="#fff" stroke="#777" stroke-width="0.85"/>
<circle cx="536.95" cy="429.85" r="1.9" fill="#fff" stroke="#777" stroke-width="0.85"/>
<circle cx="547.75" cy="428" r="1.9" fill="#fff" stroke="#777" stroke-width="0.85"/>
<circle cx="559" cy="425.75" r="1.9" fill="#fff" stroke="#777" stroke-width="0.85"/>
<circle cx="570.5" cy="423.25" r="1.9" fill="#fff" stroke="#777" stroke-width="0.85"/>
<circle cx="582" cy="420.25" r="1.9" fill="#fff" stroke="#777" stroke-width="0.85"/>
<circle cx="593.5" cy="416.75" r="1.9" fill="#fff" stroke="#777" stroke-width="0.85"/>
<circle cx="606.25" cy="411.5" r="1.9" fill="#fff" stroke="#777" stroke-width="0.85"/>
<circle cx="611.5" cy="408.75" r="1.9" fill="#fff" stroke="#777" stroke-width="0.85"/>
<circle cx="617" cy="405.5" r="1.9" fill="#fff" stroke="#777" stroke-width="0.85"/>
<circle cx="622.75" cy="401" r="1.9" fill="#fff" stroke="#777" stroke-width="0.85"/>
<circle cx="628.5" cy="396" r="1.9" fill="#fff" stroke="#777" stroke-width="0.85"/>
<circle cx="634.25" cy="388.75" r="1.9" fill="#fff" stroke="#777" stroke-width="0.85"/>
<circle cx="641" cy="374.5" r="1.9" fill="#fff" stroke="#777" stroke-width="0.85"/>
<circle cx="646" cy="356.5" r="1.9" fill="#fff" stroke="#777" stroke-width="0.85"/>
<circle cx="647.5" cy="347.5" r="1.9" fill="#fff" stroke="#777" stroke-width="0.85"/>
<circle cx="649.5" cy="323.75" r="1.9" fill="#fff" stroke="#777" stroke-width="0.85"/>
<circle cx="650.8" cy="296.6" r="1.9" fill="#fff" stroke="#777" stroke-width="0.85"/>
<circle cx="454.25" cy="442.25" r="2.2" fill="#000"/>
<circle cx="468.25" cy="440" r="2.2" fill="#000"/>
<circle cx="479.75" cy="438" r="2.2" fill="#000"/>
<circle cx="491.5" cy="436.25" r="2.2" fill="#000"/>
<circle cx="503" cy="434.75" r="2.2" fill="#000"/>
<circle cx="514.5" cy="433.25" r="2.2" fill="#000"/>
<circle cx="526.25" cy="431.25" r="2.2" fill="#000"/>
<circle cx="537.75" cy="429.25" r="2.2" fill="#000"/>
<circle cx="549.5" cy="427.25" r="2.2" fill="#000"/>
<circle cx="561.25" cy="424.75" r="2.2" fill="#000"/>
<circle cx="569.25" cy="422.75" r="2.2" fill="#000"/>
<circle cx="584.5" cy="418.75" r="2.2" fill="#000"/>
<circle cx="595.25" cy="414.75" r="2.2" fill="#000"/>
<circle cx="607.75" cy="408.5" r="2.2" fill="#000"/>
<circle cx="611" cy="406.5" r="2.2" fill="#000"/>
<circle cx="617.25" cy="401.75" r="2.2" fill="#000"/>
<circle cx="624.5" cy="394" r="2.2" fill="#000"/>
<circle cx="630" cy="386" r="2.2" fill="#000"/>
<circle cx="635.75" cy="373.5" r="2.2" fill="#000"/>
<circle cx="642.5" cy="345" r="2.2" fill="#000"/>
<circle cx="648" cy="309" r="2.2" fill="#000"/>
<circle cx="649" cy="303.5" r="2.2" fill="#000"/>
<circle cx="649.75" cy="299" r="2.2" fill="#000"/>
<circle cx="650.5" cy="296" r="2.2" fill="#000"/>
</g>
<g>
<path d="M55.4 535.6 V726.1 H308.75" fill="none" stroke="#505050" stroke-width="1.25"/>
<path d="M55.4 726.1h-4.2M55.4 694.39h-4.2M55.4 662.68h-4.2M55.4 630.98h-4.2M55.4 599.27h-4.2M55.4 567.56h-4.2M55.4 535.85h-4.2M55.4 710.25h-2.3M55.4 678.54h-2.3M55.4 646.83h-2.3M55.4 615.12h-2.3M55.4 583.41h-2.3M55.4 551.7h-2.3M55.4 726.1v3.7M78.44 726.1v2.2M101.48 726.1v3.7M124.52 726.1v2.2M147.56 726.1v3.7M170.6 726.1v2.2M193.64 726.1v3.7M216.68 726.1v2.2M239.72 726.1v3.7M262.76 726.1v2.2M285.8 726.1v3.7M308.84 726.1v2.2" fill="none" stroke="#505050" stroke-width="1"/>
<text x="35.1" y="734.7" font-size="17.7" text-anchor="middle" textLength="8.5" lengthAdjust="spacingAndGlyphs">0</text>
<text x="35.1" y="703.59" font-size="17.7" text-anchor="middle" textLength="17" lengthAdjust="spacingAndGlyphs">50</text>
<text x="35.1" y="671.88" font-size="17.7" text-anchor="middle" textLength="25.5" lengthAdjust="spacingAndGlyphs">100</text>
<text x="35.1" y="641.18" font-size="17.7" text-anchor="middle" textLength="25.5" lengthAdjust="spacingAndGlyphs">150</text>
<text x="35.1" y="608.77" font-size="17.7" text-anchor="middle" textLength="25.5" lengthAdjust="spacingAndGlyphs">200</text>
<text x="35.1" y="576.76" font-size="17.7" text-anchor="middle" textLength="25.5" lengthAdjust="spacingAndGlyphs">250</text>
<text x="35.1" y="546.05" font-size="17.7" text-anchor="middle" textLength="25.5" lengthAdjust="spacingAndGlyphs">300</text>
<text x="55.4" y="742.5" font-size="16.8" text-anchor="middle" textLength="20" lengthAdjust="spacingAndGlyphs">0.0</text>
<text x="101.48" y="742.5" font-size="16.8" text-anchor="middle" textLength="20" lengthAdjust="spacingAndGlyphs">0.2</text>
<text x="147.56" y="742.5" font-size="16.8" text-anchor="middle" textLength="20" lengthAdjust="spacingAndGlyphs">0.4</text>
<text x="193.64" y="742.5" font-size="16.8" text-anchor="middle" textLength="20" lengthAdjust="spacingAndGlyphs">0.6</text>
<text x="239.72" y="742.5" font-size="16.8" text-anchor="middle" textLength="20" lengthAdjust="spacingAndGlyphs">0.8</text>
<text x="285.8" y="742.5" font-size="16.8" text-anchor="middle" textLength="20" lengthAdjust="spacingAndGlyphs">1.0</text>
<text x="105.5" y="756.8" font-size="17" text-anchor="start" textLength="155.2" lengthAdjust="spacingAndGlyphs">Relative Pressure (P/Po)</text>
<g transform="translate(17.8 732.7) rotate(-90) scale(1.0157 1)">
<text x="0" y="0" font-size="18.3" text-anchor="start" textLength="54.2" lengthAdjust="spacingAndGlyphs">Quantity</text>
<text x="57.6" y="0" font-size="18.3" text-anchor="start" textLength="60.4" lengthAdjust="spacingAndGlyphs">Adsorbed</text>
<text x="121.4" y="0" font-size="18.3" text-anchor="start" textLength="25.2" lengthAdjust="spacingAndGlyphs">(cm</text>
<text x="147.8" y="-5.1" font-size="10.5" text-anchor="start" textLength="5" lengthAdjust="spacingAndGlyphs">3</text>
<text x="152.8" y="0" font-size="18.3" text-anchor="start" textLength="4" lengthAdjust="spacingAndGlyphs">·</text>
<text x="157" y="0" font-size="18.3" text-anchor="start" textLength="8" lengthAdjust="spacingAndGlyphs">g</text>
<text x="166.2" y="-5.1" font-size="10.5" text-anchor="start" textLength="7" lengthAdjust="spacingAndGlyphs">-1</text>
<text x="176.3" y="0" font-size="18.3" text-anchor="start" textLength="33.3" lengthAdjust="spacingAndGlyphs">STP)</text>
</g>
<path d="M79.1 541.6H103.4" stroke="#999" stroke-width="0.9" fill="none"/>
<circle cx="90.9" cy="541.6" r="2.2" fill="#fff" stroke="#777" stroke-width="0.9"/>
<text x="109.1" y="544.5" font-size="12.3" text-anchor="start" textLength="55.6" lengthAdjust="spacingAndGlyphs">Adsorption</text>
<path d="M79.1 567.7H103.4" stroke="#777" stroke-width="0.9" fill="none"/>
<circle cx="90.9" cy="567.7" r="2.5" fill="#000"/>
<text x="109.1" y="572" font-size="12.3" text-anchor="start" textLength="55.6" lengthAdjust="spacingAndGlyphs">Desorption</text>
<text x="228.25" y="558.75" font-size="16" text-anchor="start" textLength="16.75" lengthAdjust="spacingAndGlyphs">S5</text>
<path d="M57.7 715.8 C58.55 715.17 60.78 712.92 62.8 712 C64.82 711.08 68.05 710.75 69.8 710.3 C71.55 709.85 71.92 709.72 73.3 709.3 C74.68 708.88 76.55 708.27 78.1 707.8 C79.65 707.33 80.3 707 82.6 706.5 C84.9 706 89.6 705.22 91.9 704.8 C94.2 704.38 94.95 704.23 96.4 704 C97.85 703.77 97.97 703.83 100.6 703.4 C103.23 702.97 108.32 702.03 112.2 701.4 C116.08 700.77 120.02 700.15 123.9 699.6 C127.78 699.05 131.65 698.65 135.5 698.1 C139.35 697.55 143.12 696.85 147 696.3 C150.88 695.75 155.05 695.43 158.8 694.8 C162.55 694.17 165.76 693.26 169.5 692.5 C173.24 691.74 177.42 691 181.25 690.25 C185.08 689.5 188.75 688.83 192.5 688 C196.25 687.17 200 686.12 203.75 685.25 C207.5 684.38 211.12 683.79 215 682.75 C218.88 681.71 223.08 680.38 227 679 C230.92 677.62 234.75 676.33 238.5 674.5 C242.25 672.67 246.62 669.79 249.5 668 C252.38 666.21 253.75 665.5 255.75 663.75 C257.75 662 259.58 659.88 261.5 657.5 C263.42 655.12 265.21 653.62 267.25 649.5 C269.29 645.38 271.92 638.83 273.75 632.75 C275.58 626.67 277.17 619.04 278.25 613 C279.33 606.96 279.75 601.79 280.25 596.5 C280.75 591.21 280.74 588.02 281.25 581.25 C281.76 574.48 282.96 560.08 283.3 555.85" fill="none" stroke="#8c8c8c" stroke-width="0.75"/>
<path d="M87.6 705.5 C89.9 705.05 97.17 703.58 101.4 702.8 C105.63 702.02 109.12 701.43 113 700.8 C116.88 700.17 120.82 699.55 124.7 699 C128.58 698.45 132.45 698.05 136.3 697.5 C140.15 696.95 143.92 696.25 147.8 695.7 C151.68 695.15 155.65 694.68 159.6 694.2 C163.55 693.72 167.6 693.38 171.5 692.8 C175.4 692.22 179.12 691.38 183 690.75 C186.88 690.12 190.88 689.71 194.75 689 C198.62 688.29 202.42 687.46 206.25 686.5 C210.08 685.54 213.96 684.42 217.75 683.25 C221.54 682.08 225.25 681 229 679.5 C232.75 678 237.38 675.79 240.25 674.25 C243.12 672.71 244.5 671.42 246.25 670.25 C248 669.08 249.08 668.75 250.75 667.25 C252.42 665.75 254.12 664.21 256.25 661.25 C258.38 658.29 261.29 654.38 263.5 649.5 C265.71 644.62 267.71 638.71 269.5 632 C271.29 625.29 272.58 618.58 274.25 609.25 C275.92 599.92 278.42 582.75 279.5 576 C280.58 569.25 280.38 571.29 280.75 568.75 C281.12 566.21 281.38 563 281.75 560.75 C282.12 558.5 282.79 556.17 283 555.25" fill="none" stroke="#6a6a6a" stroke-width="0.75"/>
<circle cx="57.7" cy="715.8" r="1.9" fill="#fff" stroke="#777" stroke-width="0.85"/>
<circle cx="62.8" cy="712" r="1.9" fill="#fff" stroke="#777" stroke-width="0.85"/>
<circle cx="69.8" cy="710.3" r="1.9" fill="#fff" stroke="#777" stroke-width="0.85"/>
<circle cx="73.3" cy="709.3" r="1.9" fill="#fff" stroke="#777" stroke-width="0.85"/>
<circle cx="78.1" cy="707.8" r="1.9" fill="#fff" stroke="#777" stroke-width="0.85"/>
<circle cx="82.6" cy="706.5" r="1.9" fill="#fff" stroke="#777" stroke-width="0.85"/>
<circle cx="91.9" cy="704.8" r="1.9" fill="#fff" stroke="#777" stroke-width="0.85"/>
<circle cx="96.4" cy="704" r="1.9" fill="#fff" stroke="#777" stroke-width="0.85"/>
<circle cx="100.6" cy="703.4" r="1.9" fill="#fff" stroke="#777" stroke-width="0.85"/>
<circle cx="112.2" cy="701.4" r="1.9" fill="#fff" stroke="#777" stroke-width="0.85"/>
<circle cx="123.9" cy="699.6" r="1.9" fill="#fff" stroke="#777" stroke-width="0.85"/>
<circle cx="135.5" cy="698.1" r="1.9" fill="#fff" stroke="#777" stroke-width="0.85"/>
<circle cx="147" cy="696.3" r="1.9" fill="#fff" stroke="#777" stroke-width="0.85"/>
<circle cx="158.8" cy="694.8" r="1.9" fill="#fff" stroke="#777" stroke-width="0.85"/>
<circle cx="169.5" cy="692.5" r="1.9" fill="#fff" stroke="#777" stroke-width="0.85"/>
<circle cx="181.25" cy="690.25" r="1.9" fill="#fff" stroke="#777" stroke-width="0.85"/>
<circle cx="192.5" cy="688" r="1.9" fill="#fff" stroke="#777" stroke-width="0.85"/>
<circle cx="203.75" cy="685.25" r="1.9" fill="#fff" stroke="#777" stroke-width="0.85"/>
<circle cx="215" cy="682.75" r="1.9" fill="#fff" stroke="#777" stroke-width="0.85"/>
<circle cx="227" cy="679" r="1.9" fill="#fff" stroke="#777" stroke-width="0.85"/>
<circle cx="238.5" cy="674.5" r="1.9" fill="#fff" stroke="#777" stroke-width="0.85"/>
<circle cx="249.5" cy="668" r="1.9" fill="#fff" stroke="#777" stroke-width="0.85"/>
<circle cx="255.75" cy="663.75" r="1.9" fill="#fff" stroke="#777" stroke-width="0.85"/>
<circle cx="261.5" cy="657.5" r="1.9" fill="#fff" stroke="#777" stroke-width="0.85"/>
<circle cx="267.25" cy="649.5" r="1.9" fill="#fff" stroke="#777" stroke-width="0.85"/>
<circle cx="273.75" cy="632.75" r="1.9" fill="#fff" stroke="#777" stroke-width="0.85"/>
<circle cx="278.25" cy="613" r="1.9" fill="#fff" stroke="#777" stroke-width="0.85"/>
<circle cx="280.25" cy="596.5" r="1.9" fill="#fff" stroke="#777" stroke-width="0.85"/>
<circle cx="281.25" cy="581.25" r="1.9" fill="#fff" stroke="#777" stroke-width="0.85"/>
<circle cx="283.3" cy="555.85" r="1.9" fill="#fff" stroke="#777" stroke-width="0.85"/>
<circle cx="87.6" cy="705.5" r="2.2" fill="#000"/>
<circle cx="101.4" cy="702.8" r="2.2" fill="#000"/>
<circle cx="113" cy="700.8" r="2.2" fill="#000"/>
<circle cx="124.7" cy="699" r="2.2" fill="#000"/>
<circle cx="136.3" cy="697.5" r="2.2" fill="#000"/>
<circle cx="147.8" cy="695.7" r="2.2" fill="#000"/>
<circle cx="159.6" cy="694.2" r="2.2" fill="#000"/>
<circle cx="171.5" cy="692.8" r="2.2" fill="#000"/>
<circle cx="183" cy="690.75" r="2.2" fill="#000"/>
<circle cx="194.75" cy="689" r="2.2" fill="#000"/>
<circle cx="206.25" cy="686.5" r="2.2" fill="#000"/>
<circle cx="217.75" cy="683.25" r="2.2" fill="#000"/>
<circle cx="229" cy="679.5" r="2.2" fill="#000"/>
<circle cx="240.25" cy="674.25" r="2.2" fill="#000"/>
<circle cx="246.25" cy="670.25" r="2.2" fill="#000"/>
<circle cx="250.75" cy="667.25" r="2.2" fill="#000"/>
<circle cx="256.25" cy="661.25" r="2.2" fill="#000"/>
<circle cx="263.5" cy="649.5" r="2.2" fill="#000"/>
<circle cx="269.5" cy="632" r="2.2" fill="#000"/>
<circle cx="274.25" cy="609.25" r="2.2" fill="#000"/>
<circle cx="279.5" cy="576" r="2.2" fill="#000"/>
<circle cx="280.75" cy="568.75" r="2.2" fill="#000"/>
<circle cx="281.75" cy="560.75" r="2.2" fill="#000"/>
<circle cx="283" cy="555.25" r="2.2" fill="#000"/>
</g>
<g>
<path d="M426.7 536.25 V725.8 H679" fill="none" stroke="#505050" stroke-width="1.25"/>
<path d="M426.7 725.8h-4.2M426.7 691.29h-4.2M426.7 656.78h-4.2M426.7 622.27h-4.2M426.7 587.76h-4.2M426.7 553.25h-4.2M426.7 708.54h-2.3M426.7 674.03h-2.3M426.7 639.52h-2.3M426.7 605.01h-2.3M426.7 570.5h-2.3M426.7 536h-2.3M426.7 725.8v3.7M449.56 725.8v2.2M472.42 725.8v3.7M495.28 725.8v2.2M518.14 725.8v3.7M541 725.8v2.2M563.86 725.8v3.7M586.72 725.8v2.2M609.58 725.8v3.7M632.44 725.8v2.2M655.3 725.8v3.7M678.16 725.8v2.2" fill="none" stroke="#505050" stroke-width="1"/>
<text x="406.3" y="730.7" font-size="19" text-anchor="middle" textLength="9" lengthAdjust="spacingAndGlyphs">0</text>
<text x="406.3" y="697.79" font-size="19" text-anchor="middle" textLength="27" lengthAdjust="spacingAndGlyphs">100</text>
<text x="406.3" y="664.28" font-size="19" text-anchor="middle" textLength="27" lengthAdjust="spacingAndGlyphs">200</text>
<text x="406.3" y="630.87" font-size="19" text-anchor="middle" textLength="27" lengthAdjust="spacingAndGlyphs">300</text>
<text x="406.3" y="597.26" font-size="19" text-anchor="middle" textLength="27" lengthAdjust="spacingAndGlyphs">400</text>
<text x="406.3" y="562.95" font-size="19" text-anchor="middle" textLength="27" lengthAdjust="spacingAndGlyphs">500</text>
<text x="425.7" y="742" font-size="16.8" text-anchor="middle" textLength="20" lengthAdjust="spacingAndGlyphs">0.0</text>
<text x="471.42" y="742" font-size="16.8" text-anchor="middle" textLength="20" lengthAdjust="spacingAndGlyphs">0.2</text>
<text x="517.14" y="742" font-size="16.8" text-anchor="middle" textLength="20" lengthAdjust="spacingAndGlyphs">0.4</text>
<text x="562.86" y="742" font-size="16.8" text-anchor="middle" textLength="20" lengthAdjust="spacingAndGlyphs">0.6</text>
<text x="608.58" y="742" font-size="16.8" text-anchor="middle" textLength="20" lengthAdjust="spacingAndGlyphs">0.8</text>
<text x="654.3" y="742" font-size="16.8" text-anchor="middle" textLength="20" lengthAdjust="spacingAndGlyphs">1.0</text>
<text x="484" y="757" font-size="17" text-anchor="start" textLength="153.5" lengthAdjust="spacingAndGlyphs">Relative Pressure (P/Po)</text>
<g transform="translate(383 743.7) rotate(-90) scale(1.0363 1)">
<text x="0" y="0" font-size="18.6" text-anchor="start" textLength="54.2" lengthAdjust="spacingAndGlyphs">Quantity</text>
<text x="57.6" y="0" font-size="18.6" text-anchor="start" textLength="60.4" lengthAdjust="spacingAndGlyphs">Adsorbed</text>
<text x="121.4" y="0" font-size="18.6" text-anchor="start" textLength="25.2" lengthAdjust="spacingAndGlyphs">(cm</text>
<text x="147.8" y="-5.1" font-size="10.5" text-anchor="start" textLength="5" lengthAdjust="spacingAndGlyphs">3</text>
<text x="152.8" y="0" font-size="18.6" text-anchor="start" textLength="4" lengthAdjust="spacingAndGlyphs">·</text>
<text x="157" y="0" font-size="18.6" text-anchor="start" textLength="8" lengthAdjust="spacingAndGlyphs">g</text>
<text x="166.2" y="-5.1" font-size="10.5" text-anchor="start" textLength="7" lengthAdjust="spacingAndGlyphs">-1</text>
<text x="176.3" y="0" font-size="18.6" text-anchor="start" textLength="33.3" lengthAdjust="spacingAndGlyphs">STP)</text>
</g>
<path d="M449.9 541.5H475" stroke="#999" stroke-width="0.9" fill="none"/>
<circle cx="462.25" cy="541.5" r="2.2" fill="#fff" stroke="#777" stroke-width="0.9"/>
<text x="474.6" y="544.4" font-size="12.3" text-anchor="start" textLength="56" lengthAdjust="spacingAndGlyphs">Adsorption</text>
<path d="M449.9 567.5H475" stroke="#777" stroke-width="0.9" fill="none"/>
<circle cx="462.25" cy="567.5" r="2.5" fill="#000"/>
<text x="474.6" y="572.2" font-size="12.3" text-anchor="start" textLength="56" lengthAdjust="spacingAndGlyphs">Desorption</text>
<text x="597.25" y="557" font-size="16" text-anchor="start" textLength="18" lengthAdjust="spacingAndGlyphs">S6</text>
<path d="M428.75 716.5 C429.54 716.17 431.54 715.08 433.5 714.5 C435.46 713.92 438.67 713.38 440.5 713 C442.33 712.62 443.04 712.46 444.5 712.25 C445.96 712.04 447.71 711.92 449.25 711.75 C450.79 711.58 452.21 711.42 453.75 711.25 C455.29 711.08 456.96 710.88 458.5 710.75 C460.04 710.62 461.5 710.58 463 710.5 C464.5 710.42 466 710.33 467.5 710.25 C469 710.17 469.42 710.21 472 710 C474.58 709.79 479.17 709.33 483 709 C486.83 708.67 491.04 708.33 495 708 C498.96 707.67 503.04 707.25 506.75 707 C510.46 706.75 513.58 706.71 517.25 706.5 C520.92 706.29 524.96 706.04 528.75 705.75 C532.54 705.46 536.21 705.08 540 704.75 C543.79 704.42 547.67 704.12 551.5 703.75 C555.33 703.38 559.21 702.92 563 702.5 C566.79 702.08 570.46 701.71 574.25 701.25 C578.04 700.79 581.96 700.38 585.75 699.75 C589.54 699.12 593.04 698.33 597 697.5 C600.96 696.67 606.54 695.46 609.5 694.75 C612.46 694.04 612.92 693.92 614.75 693.25 C616.58 692.58 618.67 691.62 620.5 690.75 C622.33 689.88 623.71 689.29 625.75 688 C627.79 686.71 630.79 684.71 632.75 683 C634.71 681.29 635.79 680.12 637.5 677.75 C639.21 675.38 641.17 675 643 668.75 C644.83 662.5 647.42 647 648.5 640.25 C649.58 633.5 648.96 635.62 649.5 628.25 C650.04 620.88 651.08 607.4 651.75 596 C652.42 584.6 653.25 565.88 653.55 559.85" fill="none" stroke="#8c8c8c" stroke-width="0.75"/>
<path d="M458.5 708.25 C460.83 708.04 468.25 707.33 472.5 707 C476.75 706.67 480.12 706.5 484 706.25 C487.88 706 491.92 705.75 495.75 705.5 C499.58 705.25 503.25 705.04 507 704.75 C510.75 704.46 514.42 704.08 518.25 703.75 C522.08 703.42 526.17 703.04 530 702.75 C533.83 702.46 537.42 702.33 541.25 702 C545.08 701.67 549.08 701.17 553 700.75 C556.92 700.33 561.54 699.83 564.75 699.5 C567.96 699.17 569 699.17 572.25 698.75 C575.5 698.33 579.83 697.75 584.25 697 C588.67 696.25 594.83 695.12 598.75 694.25 C602.67 693.38 604.96 692.67 607.75 691.75 C610.54 690.83 613.46 689.62 615.5 688.75 C617.54 687.88 617.92 687.92 620 686.5 C622.08 685.08 625.75 682.71 628 680.25 C630.25 677.79 632.04 674.62 633.5 671.75 C634.96 668.88 634.88 672.17 636.75 663 C638.62 653.83 642.42 632.75 644.75 616.75 C647.08 600.75 649.62 575.83 650.75 567 C651.88 558.17 651.25 564.75 651.5 563.75 C651.75 562.75 651.96 561.75 652.25 561 C652.54 560.25 653.08 559.54 653.25 559.25" fill="none" stroke="#6a6a6a" stroke-width="0.75"/>
<circle cx="428.75" cy="716.5" r="1.9" fill="#fff" stroke="#777" stroke-width="0.85"/>
<circle cx="433.5" cy="714.5" r="1.9" fill="#fff" stroke="#777" stroke-width="0.85"/>
<circle cx="440.5" cy="713" r="1.9" fill="#fff" stroke="#777" stroke-width="0.85"/>
<circle cx="444.5" cy="712.25" r="1.9" fill="#fff" stroke="#777" stroke-width="0.85"/>
<circle cx="449.25" cy="711.75" r="1.9" fill="#fff" stroke="#777" stroke-width="0.85"/>
<circle cx="453.75" cy="711.25" r="1.9" fill="#fff" stroke="#777" stroke-width="0.85"/>
<circle cx="458.5" cy="710.75" r="1.9" fill="#fff" stroke="#777" stroke-width="0.85"/>
<circle cx="463" cy="710.5" r="1.9" fill="#fff" stroke="#777" stroke-width="0.85"/>
<circle cx="467.5" cy="710.25" r="1.9" fill="#fff" stroke="#777" stroke-width="0.85"/>
<circle cx="472" cy="710" r="1.9" fill="#fff" stroke="#777" stroke-width="0.85"/>
<circle cx="483" cy="709" r="1.9" fill="#fff" stroke="#777" stroke-width="0.85"/>
<circle cx="495" cy="708" r="1.9" fill="#fff" stroke="#777" stroke-width="0.85"/>
<circle cx="506.75" cy="707" r="1.9" fill="#fff" stroke="#777" stroke-width="0.85"/>
<circle cx="517.25" cy="706.5" r="1.9" fill="#fff" stroke="#777" stroke-width="0.85"/>
<circle cx="528.75" cy="705.75" r="1.9" fill="#fff" stroke="#777" stroke-width="0.85"/>
<circle cx="540" cy="704.75" r="1.9" fill="#fff" stroke="#777" stroke-width="0.85"/>
<circle cx="551.5" cy="703.75" r="1.9" fill="#fff" stroke="#777" stroke-width="0.85"/>
<circle cx="563" cy="702.5" r="1.9" fill="#fff" stroke="#777" stroke-width="0.85"/>
<circle cx="574.25" cy="701.25" r="1.9" fill="#fff" stroke="#777" stroke-width="0.85"/>
<circle cx="585.75" cy="699.75" r="1.9" fill="#fff" stroke="#777" stroke-width="0.85"/>
<circle cx="597" cy="697.5" r="1.9" fill="#fff" stroke="#777" stroke-width="0.85"/>
<circle cx="609.5" cy="694.75" r="1.9" fill="#fff" stroke="#777" stroke-width="0.85"/>
<circle cx="614.75" cy="693.25" r="1.9" fill="#fff" stroke="#777" stroke-width="0.85"/>
<circle cx="620.5" cy="690.75" r="1.9" fill="#fff" stroke="#777" stroke-width="0.85"/>
<circle cx="625.75" cy="688" r="1.9" fill="#fff" stroke="#777" stroke-width="0.85"/>
<circle cx="632.75" cy="683" r="1.9" fill="#fff" stroke="#777" stroke-width="0.85"/>
<circle cx="637.5" cy="677.75" r="1.9" fill="#fff" stroke="#777" stroke-width="0.85"/>
<circle cx="643" cy="668.75" r="1.9" fill="#fff" stroke="#777" stroke-width="0.85"/>
<circle cx="648.5" cy="640.25" r="1.9" fill="#fff" stroke="#777" stroke-width="0.85"/>
<circle cx="649.5" cy="628.25" r="1.9" fill="#fff" stroke="#777" stroke-width="0.85"/>
<circle cx="651.75" cy="596" r="1.9" fill="#fff" stroke="#777" stroke-width="0.85"/>
<circle cx="653.55" cy="559.85" r="1.9" fill="#fff" stroke="#777" stroke-width="0.85"/>
<circle cx="458.5" cy="708.25" r="2.2" fill="#000"/>
<circle cx="472.5" cy="707" r="2.2" fill="#000"/>
<circle cx="484" cy="706.25" r="2.2" fill="#000"/>
<circle cx="495.75" cy="705.5" r="2.2" fill="#000"/>
<circle cx="507" cy="704.75" r="2.2" fill="#000"/>
<circle cx="518.25" cy="703.75" r="2.2" fill="#000"/>
<circle cx="530" cy="702.75" r="2.2" fill="#000"/>
<circle cx="541.25" cy="702" r="2.2" fill="#000"/>
<circle cx="553" cy="700.75" r="2.2" fill="#000"/>
<circle cx="564.75" cy="699.5" r="2.2" fill="#000"/>
<circle cx="572.25" cy="698.75" r="2.2" fill="#000"/>
<circle cx="584.25" cy="697" r="2.2" fill="#000"/>
<circle cx="598.75" cy="694.25" r="2.2" fill="#000"/>
<circle cx="607.75" cy="691.75" r="2.2" fill="#000"/>
<circle cx="615.5" cy="688.75" r="2.2" fill="#000"/>
<circle cx="620" cy="686.5" r="2.2" fill="#000"/>
<circle cx="628" cy="680.25" r="2.2" fill="#000"/>
<circle cx="633.5" cy="671.75" r="2.2" fill="#000"/>
<circle cx="636.75" cy="663" r="2.2" fill="#000"/>
<circle cx="644.75" cy="616.75" r="2.2" fill="#000"/>
<circle cx="650.75" cy="567" r="2.2" fill="#000"/>
<circle cx="651.5" cy="563.75" r="2.2" fill="#000"/>
<circle cx="652.25" cy="561" r="2.2" fill="#000"/>
<circle cx="653.25" cy="559.25" r="2.2" fill="#000"/>
</g>
<g>
<path d="M64.5 793.3 V984.3 H317.75" fill="none" stroke="#505050" stroke-width="1.25"/>
<path d="M64.5 984.3h-4.2M64.5 939.32h-4.2M64.5 894.35h-4.2M64.5 849.38h-4.2M64.5 804.4h-4.2M64.5 961.81h-4M64.5 916.84h-4M64.5 871.86h-4M64.5 826.89h-4M64.5 973.06h-2.6M64.5 950.57h-2.6M64.5 928.08h-2.6M64.5 905.59h-2.6M64.5 883.11h-2.6M64.5 860.62h-2.6M64.5 838.13h-2.6M64.5 815.64h-2.6M64.5 793.16h-2.6M64.5 984.3v3.7M87.5 984.3v2.2M110.5 984.3v3.7M133.5 984.3v2.2M156.5 984.3v3.7M179.5 984.3v2.2M202.5 984.3v3.7M225.5 984.3v2.2M248.5 984.3v3.7M271.5 984.3v2.2M294.5 984.3v3.7M317.5 984.3v2.2" fill="none" stroke="#505050" stroke-width="1"/>
<text x="48.2" y="988.6" font-size="18" text-anchor="middle" textLength="9" lengthAdjust="spacingAndGlyphs">0</text>
<text x="45.8" y="945.82" font-size="18.5" text-anchor="middle" textLength="27" lengthAdjust="spacingAndGlyphs">100</text>
<text x="43.9" y="900.55" font-size="18.5" text-anchor="middle" textLength="27" lengthAdjust="spacingAndGlyphs">200</text>
<text x="43.9" y="855.27" font-size="18.5" text-anchor="middle" textLength="27" lengthAdjust="spacingAndGlyphs">300</text>
<text x="44.1" y="811.4" font-size="18.5" text-anchor="middle" textLength="27" lengthAdjust="spacingAndGlyphs">400</text>
<text x="64.5" y="1001.5" font-size="16.8" text-anchor="middle" textLength="20" lengthAdjust="spacingAndGlyphs">0.0</text>
<text x="110.5" y="1001.5" font-size="16.8" text-anchor="middle" textLength="20" lengthAdjust="spacingAndGlyphs">0.2</text>
<text x="156.5" y="1001.5" font-size="16.8" text-anchor="middle" textLength="20" lengthAdjust="spacingAndGlyphs">0.4</text>
<text x="202.5" y="1001.5" font-size="16.8" text-anchor="middle" textLength="20" lengthAdjust="spacingAndGlyphs">0.6</text>
<text x="248.5" y="1001.5" font-size="16.8" text-anchor="middle" textLength="20" lengthAdjust="spacingAndGlyphs">0.8</text>
<text x="294.5" y="1001.5" font-size="16.8" text-anchor="middle" textLength="20" lengthAdjust="spacingAndGlyphs">1.0</text>
<text x="105.5" y="1017" font-size="14.5" text-anchor="start" textLength="154.5" lengthAdjust="spacingAndGlyphs">Relative Pressure (P/Po)</text>
<g transform="translate(16 1005.1) rotate(-90) scale(1.0243 1)">
<text x="0" y="0" font-size="18.8" text-anchor="start" textLength="54.2" lengthAdjust="spacingAndGlyphs">Quantity</text>
<text x="57.6" y="0" font-size="18.8" text-anchor="start" textLength="60.4" lengthAdjust="spacingAndGlyphs">Adsorbed</text>
<text x="121.4" y="0" font-size="18.8" text-anchor="start" textLength="25.2" lengthAdjust="spacingAndGlyphs">(cm</text>
<text x="147.8" y="-5.1" font-size="10" text-anchor="start" textLength="5" lengthAdjust="spacingAndGlyphs">3</text>
<text x="152.8" y="0" font-size="18.8" text-anchor="start" textLength="4" lengthAdjust="spacingAndGlyphs">·</text>
<text x="157" y="0" font-size="18.8" text-anchor="start" textLength="8" lengthAdjust="spacingAndGlyphs">g</text>
<text x="166.2" y="-5.1" font-size="10" text-anchor="start" textLength="7" lengthAdjust="spacingAndGlyphs">-1</text>
<text x="176.3" y="0" font-size="18.8" text-anchor="start" textLength="33.3" lengthAdjust="spacingAndGlyphs">STP)</text>
</g>
<path d="M87.8 799.6H113.4" stroke="#999" stroke-width="0.9" fill="none"/>
<circle cx="100.7" cy="799.6" r="2.2" fill="#fff" stroke="#777" stroke-width="0.9"/>
<text x="114.2" y="803.8" font-size="12.3" text-anchor="start" textLength="56" lengthAdjust="spacingAndGlyphs">Adsorption</text>
<path d="M87.8 827.8H113.4" stroke="#777" stroke-width="0.9" fill="none"/>
<circle cx="100.7" cy="827.8" r="2.5" fill="#000"/>
<text x="114.2" y="832.1" font-size="12.3" text-anchor="start" textLength="56" lengthAdjust="spacingAndGlyphs">Desorption</text>
<text x="228.25" y="816.75" font-size="16" text-anchor="start" textLength="17.5" lengthAdjust="spacingAndGlyphs">S7</text>
<path d="M66.5 978.3 C67.33 977.97 69.53 976.8 71.5 976.3 C73.47 975.8 76.53 975.55 78.3 975.3 C80.07 975.05 80.63 975 82.1 974.8 C83.57 974.6 85.52 974.3 87.1 974.1 C88.68 973.9 89.3 973.82 91.6 973.6 C93.9 973.38 98.6 972.97 100.9 972.8 C103.2 972.63 103.95 972.7 105.4 972.6 C106.85 972.5 106.97 972.38 109.6 972.2 C112.23 972.02 117.35 971.75 121.2 971.5 C125.05 971.25 128.85 970.95 132.7 970.7 C136.55 970.45 140.45 970.25 144.3 970 C148.15 969.75 151.95 969.47 155.8 969.2 C159.65 968.93 163.5 968.57 167.4 968.4 C171.3 968.23 175.32 968.36 179.2 968.15 C183.08 967.94 186.82 967.48 190.7 967.15 C194.57 966.82 198.73 966.51 202.45 966.15 C206.17 965.79 209.24 965.44 213 965 C216.76 964.56 221.12 964.04 225 963.5 C228.88 962.96 232.58 962.42 236.25 961.75 C239.92 961.08 244.38 960.04 247 959.5 C249.62 958.96 250.04 959.08 252 958.5 C253.96 957.92 256.62 956.83 258.75 956 C260.88 955.17 262.79 954.54 264.75 953.5 C266.71 952.46 268.54 951.42 270.5 949.75 C272.46 948.08 274.5 946.5 276.5 943.5 C278.5 940.5 280.71 937.75 282.5 931.75 C284.29 925.75 286.33 912.46 287.25 907.5 C288.17 902.54 287.38 911.17 288 902 C288.62 892.83 290.28 867.11 291 852.5 C291.72 837.89 292.08 820.71 292.3 814.35" fill="none" stroke="#8c8c8c" stroke-width="0.75"/>
<path d="M96.4 973.1 C98.73 972.88 106.13 972.13 110.4 971.8 C114.67 971.47 118.15 971.35 122 971.1 C125.85 970.85 129.65 970.55 133.5 970.3 C137.35 970.05 141.25 969.85 145.1 969.6 C148.95 969.35 152.75 969.07 156.6 968.8 C160.45 968.53 164.3 968.17 168.2 968 C172.1 967.83 176.12 967.96 180 967.75 C183.88 967.54 187.62 967.08 191.5 966.75 C195.38 966.42 199.96 966.08 203.25 965.75 C206.54 965.42 207.92 965.17 211.25 964.75 C214.58 964.33 218.79 963.92 223.25 963.25 C227.71 962.58 234.08 961.5 238 960.75 C241.92 960 244.12 959.54 246.75 958.75 C249.38 957.96 251.46 957 253.75 956 C256.04 955 258.38 954.04 260.5 952.75 C262.62 951.46 264.5 950.33 266.5 948.25 C268.5 946.17 270.71 943.46 272.5 940.25 C274.29 937.04 275.42 936.33 277.25 929 C279.08 921.67 281.46 913.75 283.5 896.25 C285.54 878.75 288.33 837.04 289.5 824 C290.67 810.96 290.21 819.42 290.5 818 C290.79 816.58 291 816.21 291.25 815.5 C291.5 814.79 291.88 814.04 292 813.75" fill="none" stroke="#6a6a6a" stroke-width="0.75"/>
<circle cx="66.5" cy="978.3" r="1.9" fill="#fff" stroke="#777" stroke-width="0.85"/>
<circle cx="71.5" cy="976.3" r="1.9" fill="#fff" stroke="#777" stroke-width="0.85"/>
<circle cx="78.3" cy="975.3" r="1.9" fill="#fff" stroke="#777" stroke-width="0.85"/>
<circle cx="82.1" cy="974.8" r="1.9" fill="#fff" stroke="#777" stroke-width="0.85"/>
<circle cx="87.1" cy="974.1" r="1.9" fill="#fff" stroke="#777" stroke-width="0.85"/>
<circle cx="91.6" cy="973.6" r="1.9" fill="#fff" stroke="#777" stroke-width="0.85"/>
<circle cx="100.9" cy="972.8" r="1.9" fill="#fff" stroke="#777" stroke-width="0.85"/>
<circle cx="105.4" cy="972.6" r="1.9" fill="#fff" stroke="#777" stroke-width="0.85"/>
<circle cx="109.6" cy="972.2" r="1.9" fill="#fff" stroke="#777" stroke-width="0.85"/>
<circle cx="121.2" cy="971.5" r="1.9" fill="#fff" stroke="#777" stroke-width="0.85"/>
<circle cx="132.7" cy="970.7" r="1.9" fill="#fff" stroke="#777" stroke-width="0.85"/>
<circle cx="144.3" cy="970" r="1.9" fill="#fff" stroke="#777" stroke-width="0.85"/>
<circle cx="155.8" cy="969.2" r="1.9" fill="#fff" stroke="#777" stroke-width="0.85"/>
<circle cx="167.4" cy="968.4" r="1.9" fill="#fff" stroke="#777" stroke-width="0.85"/>
<circle cx="179.2" cy="968.15" r="1.9" fill="#fff" stroke="#777" stroke-width="0.85"/>
<circle cx="190.7" cy="967.15" r="1.9" fill="#fff" stroke="#777" stroke-width="0.85"/>
<circle cx="202.45" cy="966.15" r="1.9" fill="#fff" stroke="#777" stroke-width="0.85"/>
<circle cx="213" cy="965" r="1.9" fill="#fff" stroke="#777" stroke-width="0.85"/>
<circle cx="225" cy="963.5" r="1.9" fill="#fff" stroke="#777" stroke-width="0.85"/>
<circle cx="236.25" cy="961.75" r="1.9" fill="#fff" stroke="#777" stroke-width="0.85"/>
<circle cx="247" cy="959.5" r="1.9" fill="#fff" stroke="#777" stroke-width="0.85"/>
<circle cx="252" cy="958.5" r="1.9" fill="#fff" stroke="#777" stroke-width="0.85"/>
<circle cx="258.75" cy="956" r="1.9" fill="#fff" stroke="#777" stroke-width="0.85"/>
<circle cx="264.75" cy="953.5" r="1.9" fill="#fff" stroke="#777" stroke-width="0.85"/>
<circle cx="270.5" cy="949.75" r="1.9" fill="#fff" stroke="#777" stroke-width="0.85"/>
<circle cx="276.5" cy="943.5" r="1.9" fill="#fff" stroke="#777" stroke-width="0.85"/>
<circle cx="282.5" cy="931.75" r="1.9" fill="#fff" stroke="#777" stroke-width="0.85"/>
<circle cx="287.25" cy="907.5" r="1.9" fill="#fff" stroke="#777" stroke-width="0.85"/>
<circle cx="288" cy="902" r="1.9" fill="#fff" stroke="#777" stroke-width="0.85"/>
<circle cx="291" cy="852.5" r="1.9" fill="#fff" stroke="#777" stroke-width="0.85"/>
<circle cx="292.3" cy="814.35" r="1.9" fill="#fff" stroke="#777" stroke-width="0.85"/>
<circle cx="96.4" cy="973.1" r="2.2" fill="#000"/>
<circle cx="110.4" cy="971.8" r="2.2" fill="#000"/>
<circle cx="122" cy="971.1" r="2.2" fill="#000"/>
<circle cx="133.5" cy="970.3" r="2.2" fill="#000"/>
<circle cx="145.1" cy="969.6" r="2.2" fill="#000"/>
<circle cx="156.6" cy="968.8" r="2.2" fill="#000"/>
<circle cx="168.2" cy="968" r="2.2" fill="#000"/>
<circle cx="180" cy="967.75" r="2.2" fill="#000"/>
<circle cx="191.5" cy="966.75" r="2.2" fill="#000"/>
<circle cx="203.25" cy="965.75" r="2.2" fill="#000"/>
<circle cx="211.25" cy="964.75" r="2.2" fill="#000"/>
<circle cx="223.25" cy="963.25" r="2.2" fill="#000"/>
<circle cx="238" cy="960.75" r="2.2" fill="#000"/>
<circle cx="246.75" cy="958.75" r="2.2" fill="#000"/>
<circle cx="253.75" cy="956" r="2.2" fill="#000"/>
<circle cx="260.5" cy="952.75" r="2.2" fill="#000"/>
<circle cx="266.5" cy="948.25" r="2.2" fill="#000"/>
<circle cx="272.5" cy="940.25" r="2.2" fill="#000"/>
<circle cx="277.25" cy="929" r="2.2" fill="#000"/>
<circle cx="283.5" cy="896.25" r="2.2" fill="#000"/>
<circle cx="289.5" cy="824" r="2.2" fill="#000"/>
<circle cx="290.5" cy="818" r="2.2" fill="#000"/>
<circle cx="291.25" cy="815.5" r="2.2" fill="#000"/>
<circle cx="292" cy="813.75" r="2.2" fill="#000"/>
</g>
<g>
<path d="M427.4 797 V984.6 H677" fill="none" stroke="#505050" stroke-width="1.25"/>
<path d="M427.4 984.6h-4.2M427.4 947.13h-4.2M427.4 909.66h-4.2M427.4 872.19h-4.2M427.4 834.72h-4.2M427.4 797.25h-4.2M427.4 965.87h-2.3M427.4 928.39h-2.3M427.4 890.92h-2.3M427.4 853.46h-2.3M427.4 815.99h-2.3M427.4 984.6v3.7M450.06 984.6v2.2M472.72 984.6v3.7M495.38 984.6v2.2M518.04 984.6v3.7M540.7 984.6v2.2M563.36 984.6v3.7M586.02 984.6v2.2M608.68 984.6v3.7M631.34 984.6v2.2M654 984.6v3.7M676.66 984.6v2.2" fill="none" stroke="#505050" stroke-width="1"/>
<text x="405.95" y="987.9" font-size="18.5" text-anchor="middle" textLength="8.6" lengthAdjust="spacingAndGlyphs">0</text>
<text x="405.95" y="952.53" font-size="18.5" text-anchor="middle" textLength="25.8" lengthAdjust="spacingAndGlyphs">200</text>
<text x="405.95" y="915.56" font-size="18.5" text-anchor="middle" textLength="25.8" lengthAdjust="spacingAndGlyphs">400</text>
<text x="405.95" y="880.79" font-size="18.5" text-anchor="middle" textLength="25.8" lengthAdjust="spacingAndGlyphs">600</text>
<text x="405.95" y="843.92" font-size="18.5" text-anchor="middle" textLength="25.8" lengthAdjust="spacingAndGlyphs">800</text>
<text x="405.95" y="808.25" font-size="18.5" text-anchor="middle" textLength="33.54" lengthAdjust="spacingAndGlyphs">1000</text>
<text x="429" y="1000.5" font-size="16.8" text-anchor="middle" textLength="20" lengthAdjust="spacingAndGlyphs">0.0</text>
<text x="474.32" y="1000.5" font-size="16.8" text-anchor="middle" textLength="20" lengthAdjust="spacingAndGlyphs">0.2</text>
<text x="519.64" y="1000.5" font-size="16.8" text-anchor="middle" textLength="20" lengthAdjust="spacingAndGlyphs">0.4</text>
<text x="564.96" y="1000.5" font-size="16.8" text-anchor="middle" textLength="20" lengthAdjust="spacingAndGlyphs">0.6</text>
<text x="610.28" y="1000.5" font-size="16.8" text-anchor="middle" textLength="20" lengthAdjust="spacingAndGlyphs">0.8</text>
<text x="655.6" y="1000.5" font-size="16.8" text-anchor="middle" textLength="20" lengthAdjust="spacingAndGlyphs">1.0</text>
<text x="472" y="1016.75" font-size="17" text-anchor="start" textLength="154" lengthAdjust="spacingAndGlyphs">Relative Pressure (P/Po)</text>
<g transform="translate(383 1001.4) rotate(-90) scale(1.0334 1)">
<text x="0" y="0" font-size="18.6" text-anchor="start" textLength="54.2" lengthAdjust="spacingAndGlyphs">Quantity</text>
<text x="57.6" y="0" font-size="18.6" text-anchor="start" textLength="60.4" lengthAdjust="spacingAndGlyphs">Adsorbed</text>
<text x="121.4" y="0" font-size="18.6" text-anchor="start" textLength="25.2" lengthAdjust="spacingAndGlyphs">(cm</text>
<text x="147.8" y="-5.1" font-size="10.5" text-anchor="start" textLength="5" lengthAdjust="spacingAndGlyphs">3</text>
<text x="152.8" y="0" font-size="18.6" text-anchor="start" textLength="4" lengthAdjust="spacingAndGlyphs">·</text>
<text x="157" y="0" font-size="18.6" text-anchor="start" textLength="8" lengthAdjust="spacingAndGlyphs">g</text>
<text x="166.2" y="-5.1" font-size="10.5" text-anchor="start" textLength="7" lengthAdjust="spacingAndGlyphs">-1</text>
<text x="176.3" y="0" font-size="18.6" text-anchor="start" textLength="33.3" lengthAdjust="spacingAndGlyphs">STP)</text>
</g>
<path d="M451.75 799.5H475.2" stroke="#999" stroke-width="0.9" fill="none"/>
<circle cx="463.5" cy="799.5" r="2.2" fill="#fff" stroke="#777" stroke-width="0.9"/>
<text x="476.8" y="803.4" font-size="12.3" text-anchor="start" textLength="56" lengthAdjust="spacingAndGlyphs">Adsorption</text>
<path d="M451.75 825.5H475.2" stroke="#777" stroke-width="0.9" fill="none"/>
<circle cx="463.5" cy="825.5" r="2.5" fill="#000"/>
<text x="476.8" y="830.8" font-size="12.3" text-anchor="start" textLength="56" lengthAdjust="spacingAndGlyphs">Desorption</text>
<text x="595.75" y="816" font-size="16" text-anchor="start" textLength="16.5" lengthAdjust="spacingAndGlyphs">S8</text>
<path d="M429.25 979.25 C430 979.04 431.79 978.38 433.75 978 C435.71 977.62 439.04 977.25 441 977 C442.96 976.75 444 976.62 445.5 976.5 C447 976.38 448.5 976.33 450 976.25 C451.5 976.17 452.21 976.12 454.5 976 C456.79 975.88 461.5 975.62 463.75 975.5 C466 975.38 466.63 975.27 468 975.25 C469.37 975.23 469.33 975.46 471.95 975.4 C474.57 975.34 479.82 975.07 483.7 974.9 C487.57 974.73 491.37 974.61 495.2 974.4 C499.03 974.19 502.99 973.86 506.7 973.65 C510.41 973.44 514.16 973.27 517.45 973.15 C520.74 973.02 522.62 973.07 526.45 972.9 C530.28 972.73 536.37 972.4 540.45 972.15 C544.53 971.9 547.53 971.65 550.95 971.4 C554.37 971.15 557.16 970.94 560.95 970.65 C564.74 970.36 569.91 969.98 573.7 969.65 C577.49 969.32 580.12 969.02 583.7 968.65 C587.28 968.27 591.4 967.91 595.2 967.4 C599 966.89 603.53 966 606.5 965.6 C609.47 965.2 611.08 965.31 613 965 C614.92 964.69 616.17 964.29 618 963.75 C619.83 963.21 622.08 962.42 624 961.75 C625.92 961.08 627.62 960.83 629.5 959.75 C631.38 958.67 633.33 957.38 635.25 955.25 C637.17 953.12 639.21 952.42 641 947 C642.79 941.58 645 928.75 646 922.75 C647 916.75 646.46 920.62 647 911 C647.54 901.38 648.66 878.86 649.25 865 C649.84 851.14 650.33 834.04 650.55 827.85" fill="none" stroke="#8c8c8c" stroke-width="0.75"/>
<path d="M459.25 975.75 C461.5 975.62 468.54 975.21 472.75 975 C476.96 974.79 480.62 974.67 484.5 974.5 C488.38 974.33 492.17 974.21 496 974 C499.83 973.79 503.79 973.46 507.5 973.25 C511.21 973.04 514.96 972.88 518.25 972.75 C521.54 972.62 523.42 972.67 527.25 972.5 C531.08 972.33 537.17 972 541.25 971.75 C545.33 971.5 548.33 971.25 551.75 971 C555.17 970.75 557.96 970.54 561.75 970.25 C565.54 969.96 570.71 969.58 574.5 969.25 C578.29 968.92 580.92 968.62 584.5 968.25 C588.08 967.88 592.17 967.54 596 967 C599.83 966.46 604.42 965.67 607.5 965 C610.58 964.33 612.42 963.71 614.5 963 C616.58 962.29 618.04 961.88 620 960.75 C621.96 959.62 624.46 958 626.25 956.25 C628.04 954.5 629.17 953.46 630.75 950.25 C632.33 947.04 633.75 947.46 635.75 937 C637.75 926.54 640.71 904.71 642.75 887.5 C644.79 870.29 646.92 843.62 648 833.75 C649.08 823.88 648.88 829.33 649.25 828.25 C649.62 827.17 650.08 827.42 650.25 827.25" fill="none" stroke="#6a6a6a" stroke-width="0.75"/>
<circle cx="429.25" cy="979.25" r="1.9" fill="#fff" stroke="#777" stroke-width="0.85"/>
<circle cx="433.75" cy="978" r="1.9" fill="#fff" stroke="#777" stroke-width="0.85"/>
<circle cx="441" cy="977" r="1.9" fill="#fff" stroke="#777" stroke-width="0.85"/>
<circle cx="445.5" cy="976.5" r="1.9" fill="#fff" stroke="#777" stroke-width="0.85"/>
<circle cx="450" cy="976.25" r="1.9" fill="#fff" stroke="#777" stroke-width="0.85"/>
<circle cx="454.5" cy="976" r="1.9" fill="#fff" stroke="#777" stroke-width="0.85"/>
<circle cx="463.75" cy="975.5" r="1.9" fill="#fff" stroke="#777" stroke-width="0.85"/>
<circle cx="468" cy="975.25" r="1.9" fill="#fff" stroke="#777" stroke-width="0.85"/>
<circle cx="471.95" cy="975.4" r="1.9" fill="#fff" stroke="#777" stroke-width="0.85"/>
<circle cx="483.7" cy="974.9" r="1.9" fill="#fff" stroke="#777" stroke-width="0.85"/>
<circle cx="495.2" cy="974.4" r="1.9" fill="#fff" stroke="#777" stroke-width="0.85"/>
<circle cx="506.7" cy="973.65" r="1.9" fill="#fff" stroke="#777" stroke-width="0.85"/>
<circle cx="517.45" cy="973.15" r="1.9" fill="#fff" stroke="#777" stroke-width="0.85"/>
<circle cx="526.45" cy="972.9" r="1.9" fill="#fff" stroke="#777" stroke-width="0.85"/>
<circle cx="540.45" cy="972.15" r="1.9" fill="#fff" stroke="#777" stroke-width="0.85"/>
<circle cx="550.95" cy="971.4" r="1.9" fill="#fff" stroke="#777" stroke-width="0.85"/>
<circle cx="560.95" cy="970.65" r="1.9" fill="#fff" stroke="#777" stroke-width="0.85"/>
<circle cx="573.7" cy="969.65" r="1.9" fill="#fff" stroke="#777" stroke-width="0.85"/>
<circle cx="583.7" cy="968.65" r="1.9" fill="#fff" stroke="#777" stroke-width="0.85"/>
<circle cx="595.2" cy="967.4" r="1.9" fill="#fff" stroke="#777" stroke-width="0.85"/>
<circle cx="606.5" cy="965.6" r="1.9" fill="#fff" stroke="#777" stroke-width="0.85"/>
<circle cx="613" cy="965" r="1.9" fill="#fff" stroke="#777" stroke-width="0.85"/>
<circle cx="618" cy="963.75" r="1.9" fill="#fff" stroke="#777" stroke-width="0.85"/>
<circle cx="624" cy="961.75" r="1.9" fill="#fff" stroke="#777" stroke-width="0.85"/>
<circle cx="629.5" cy="959.75" r="1.9" fill="#fff" stroke="#777" stroke-width="0.85"/>
<circle cx="635.25" cy="955.25" r="1.9" fill="#fff" stroke="#777" stroke-width="0.85"/>
<circle cx="641" cy="947" r="1.9" fill="#fff" stroke="#777" stroke-width="0.85"/>
<circle cx="646" cy="922.75" r="1.9" fill="#fff" stroke="#777" stroke-width="0.85"/>
<circle cx="647" cy="911" r="1.9" fill="#fff" stroke="#777" stroke-width="0.85"/>
<circle cx="649.25" cy="865" r="1.9" fill="#fff" stroke="#777" stroke-width="0.85"/>
<circle cx="650.55" cy="827.85" r="1.9" fill="#fff" stroke="#777" stroke-width="0.85"/>
<circle cx="459.25" cy="975.75" r="2.2" fill="#000"/>
<circle cx="472.75" cy="975" r="2.2" fill="#000"/>
<circle cx="484.5" cy="974.5" r="2.2" fill="#000"/>
<circle cx="496" cy="974" r="2.2" fill="#000"/>
<circle cx="507.5" cy="973.25" r="2.2" fill="#000"/>
<circle cx="518.25" cy="972.75" r="2.2" fill="#000"/>
<circle cx="527.25" cy="972.5" r="2.2" fill="#000"/>
<circle cx="541.25" cy="971.75" r="2.2" fill="#000"/>
<circle cx="551.75" cy="971" r="2.2" fill="#000"/>
<circle cx="561.75" cy="970.25" r="2.2" fill="#000"/>
<circle cx="574.5" cy="969.25" r="2.2" fill="#000"/>
<circle cx="584.5" cy="968.25" r="2.2" fill="#000"/>
<circle cx="596" cy="967" r="2.2" fill="#000"/>
<circle cx="607.5" cy="965" r="2.2" fill="#000"/>
<circle cx="614.5" cy="963" r="2.2" fill="#000"/>
<circle cx="620" cy="960.75" r="2.2" fill="#000"/>
<circle cx="626.25" cy="956.25" r="2.2" fill="#000"/>
<circle cx="630.75" cy="950.25" r="2.2" fill="#000"/>
<circle cx="635.75" cy="937" r="2.2" fill="#000"/>
<circle cx="642.75" cy="887.5" r="2.2" fill="#000"/>
<circle cx="648" cy="833.75" r="2.2" fill="#000"/>
<circle cx="649.25" cy="828.25" r="2.2" fill="#000"/>
<circle cx="650.25" cy="827.25" r="2.2" fill="#000"/>
</g>
</svg>
</body></html>
